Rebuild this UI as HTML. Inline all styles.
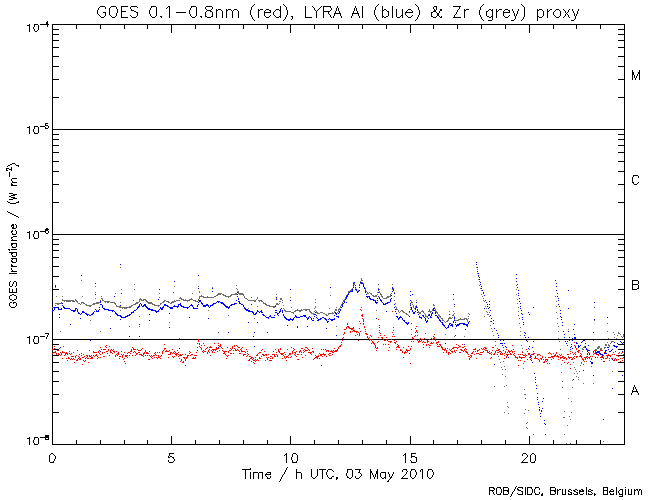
<!DOCTYPE html>
<html lang="en"><head><meta charset="utf-8"><title>GOES 0.1-0.8nm (red), LYRA Al (blue) &amp; Zr (grey) proxy</title>
<style>html,body{margin:0;padding:0;background:#fff;overflow:hidden}svg{display:block;font-family:"Liberation Sans",sans-serif}#labels text{fill:#000;fill-opacity:0;stroke:none}</style></head>
<body>
<svg width="650" height="500" viewBox="0 0 650 500" shape-rendering="crispEdges">
<rect width="650" height="500" fill="#fff"/>
<g id="frame" fill="#000"><title>plot frame and class boundaries</title><path d="M52 25v104h1v-104zM52 130v104h1v-104zM52 235v104h1v-104zM52 340v104h1v-104zM52 24h573v1h-573zM52 129h573v1h-573zM52 234h573v1h-573zM52 339h573v1h-573zM52 444h573v1h-573z"/></g>
<g id="ticks" fill="#000"><title>axis ticks</title><path d="M52 24v5h1v-5zM52 30v3h1v-3zM52 436v8h1v-8zM76 24v5h1v-5zM76 440v4h1v-4zM100 24v5h1v-5zM100 440v4h1v-4zM124 24v5h1v-5zM124 440v4h1v-4zM147 24v5h1v-5zM147 440v4h1v-4zM171 24v9h1v-9zM171 436v8h1v-8zM195 24v5h1v-5zM195 440v4h1v-4zM219 24v5h1v-5zM219 440v4h1v-4zM243 24v5h1v-5zM243 440v4h1v-4zM267 24v5h1v-5zM267 440v4h1v-4zM290 24v9h1v-9zM290 436v8h1v-8zM314 24v5h1v-5zM314 440v4h1v-4zM338 24v5h1v-5zM338 440v4h1v-4zM362 24v5h1v-5zM362 440v4h1v-4zM386 24v5h1v-5zM386 440v4h1v-4zM410 24v9h1v-9zM410 436v8h1v-8zM433 24v5h1v-5zM433 440v4h1v-4zM457 24v5h1v-5zM457 440v4h1v-4zM481 24v5h1v-5zM481 440v4h1v-4zM505 24v5h1v-5zM505 440v4h1v-4zM529 24v9h1v-9zM529 436v8h1v-8zM553 24v5h1v-5zM553 440v4h1v-4zM576 24v5h1v-5zM576 440v4h1v-4zM600 24v5h1v-5zM600 440v4h1v-4zM624 24v5h1v-5zM624 440v4h1v-4zM52 29h7v1h-7zM52 34h7v1h-7zM52 40h7v1h-7zM52 47h7v1h-7zM52 56h7v1h-7zM52 66h7v1h-7zM52 79h7v1h-7zM52 97h7v1h-7zM52 134h7v1h-7zM52 139h7v1h-7zM52 145h7v1h-7zM52 152h7v1h-7zM52 161h7v1h-7zM52 171h7v1h-7zM52 184h7v1h-7zM52 202h7v1h-7zM52 239h7v1h-7zM52 244h7v1h-7zM52 250h7v1h-7zM52 257h7v1h-7zM52 266h7v1h-7zM52 276h7v1h-7zM52 289h7v1h-7zM52 307h7v1h-7zM52 344h7v1h-7zM52 349h7v1h-7zM52 355h7v1h-7zM52 362h7v1h-7zM52 371h7v1h-7zM52 381h7v1h-7zM52 394h7v1h-7zM52 412h7v1h-7z"/></g>
<g id="goes" fill="#ff0000"><title>GOES 0.1-0.8nm (red)</title><path d="M122 355v3h1v-3zM162 351v3h1v-3zM198 339v3h1v-3zM232 346v3h1v-3zM292 351v3h1v-3zM359 333v3h1v-3zM363 319v3h1v-3zM375 345v3h1v-3zM446 350v3h1v-3zM599 351v3h1v-3zM361 307h1v1h-1zM360 309h1v1h-1zM361 310h1v1h-1zM392 311h1v1h-1zM362 314h1v1h-1zM361 315h2v1h-2zM362 316h1v1h-1zM362 318h1v1h-1zM378 319h1v1h-1zM359 321h1v1h-1zM347 323h1v1h-1zM360 323h1v1h-1zM363 323h1v1h-1zM411 323h1v1h-1zM347 324h1v1h-1zM363 324h1v1h-1zM379 325h1v1h-1zM347 326h2v1h-2zM364 326h1v1h-1zM416 326h1v1h-1zM346 327h1v1h-1zM348 327h2v1h-2zM353 327h1v1h-1zM364 327h1v1h-1zM379 327h1v1h-1zM393 327h1v1h-1zM346 328h1v1h-1zM349 328h5v1h-5zM359 328h1v1h-1zM415 328h1v1h-1zM344 329h2v1h-2zM351 329h2v1h-2zM365 329h1v1h-1zM411 329h1v1h-1zM353 330h2v1h-2zM379 330h1v1h-1zM393 330h1v1h-1zM416 330h1v1h-1zM350 331h1v1h-1zM352 331h1v1h-1zM354 331h4v1h-4zM360 331h1v1h-1zM365 331h1v1h-1zM416 331h1v1h-1zM344 332h1v1h-1zM350 332h1v1h-1zM356 332h1v1h-1zM358 332h1v1h-1zM379 332h1v1h-1zM392 332h1v1h-1zM415 332h1v1h-1zM417 332h1v1h-1zM344 333h1v1h-1zM365 333h2v1h-2zM380 333h1v1h-1zM343 334h1v1h-1zM357 334h1v1h-1zM366 334h2v1h-2zM393 334h1v1h-1zM411 334h1v1h-1zM434 334h1v1h-1zM355 335h1v1h-1zM370 335h1v1h-1zM380 335h1v1h-1zM384 335h1v1h-1zM415 335h1v1h-1zM417 335h1v1h-1zM367 336h1v1h-1zM371 336h1v1h-1zM392 336h1v1h-1zM394 336h1v1h-1zM414 336h1v1h-1zM433 336h1v1h-1zM343 337h1v1h-1zM367 337h1v1h-1zM369 337h1v1h-1zM378 337h1v1h-1zM381 337h2v1h-2zM386 337h1v1h-1zM412 337h1v1h-1zM434 337h1v1h-1zM342 338h1v1h-1zM368 338h1v1h-1zM382 338h1v1h-1zM412 338h2v1h-2zM420 338h1v1h-1zM424 338h1v1h-1zM431 338h1v1h-1zM433 338h2v1h-2zM369 339h2v1h-2zM383 339h1v1h-1zM386 339h1v1h-1zM391 339h1v1h-1zM413 339h2v1h-2zM419 339h1v1h-1zM421 339h2v1h-2zM425 339h1v1h-1zM429 339h1v1h-1zM432 339h1v1h-1zM435 339h1v1h-1zM342 340h1v1h-1zM358 340h1v1h-1zM369 340h1v1h-1zM371 340h1v1h-1zM384 340h2v1h-2zM387 340h1v1h-1zM394 340h1v1h-1zM417 340h1v1h-1zM419 340h1v1h-1zM421 340h1v1h-1zM427 340h1v1h-1zM435 340h1v1h-1zM372 341h1v1h-1zM378 341h1v1h-1zM388 341h4v1h-4zM396 341h1v1h-1zM411 341h1v1h-1zM413 341h1v1h-1zM418 341h3v1h-3zM423 341h1v1h-1zM427 341h2v1h-2zM438 341h1v1h-1zM341 342h1v1h-1zM372 342h2v1h-2zM377 342h1v1h-1zM390 342h1v1h-1zM394 342h2v1h-2zM418 342h1v1h-1zM422 342h1v1h-1zM424 342h2v1h-2zM427 342h1v1h-1zM431 342h1v1h-1zM433 342h1v1h-1zM436 342h3v1h-3zM574 342h1v1h-1zM197 343h1v1h-1zM199 343h1v1h-1zM203 343h1v1h-1zM214 343h1v1h-1zM218 343h1v1h-1zM371 343h1v1h-1zM373 343h2v1h-2zM395 343h1v1h-1zM430 343h3v1h-3zM436 343h1v1h-1zM164 344h1v1h-1zM199 344h1v1h-1zM220 344h1v1h-1zM341 344h1v1h-1zM374 344h1v1h-1zM383 344h1v1h-1zM385 344h1v1h-1zM388 344h1v1h-1zM397 344h1v1h-1zM423 344h1v1h-1zM426 344h1v1h-1zM428 344h1v1h-1zM437 344h1v1h-1zM439 344h2v1h-2zM456 344h1v1h-1zM462 344h1v1h-1zM106 345h1v1h-1zM201 345h1v1h-1zM204 345h1v1h-1zM218 345h1v1h-1zM220 345h1v1h-1zM234 345h1v1h-1zM236 345h1v1h-1zM340 345h1v1h-1zM398 345h1v1h-1zM426 345h1v1h-1zM429 345h2v1h-2zM440 345h1v1h-1zM458 345h1v1h-1zM512 345h1v1h-1zM574 345h1v1h-1zM54 346h1v1h-1zM63 346h1v1h-1zM105 346h1v1h-1zM109 346h1v1h-1zM199 346h1v1h-1zM210 346h1v1h-1zM219 346h2v1h-2zM234 346h1v1h-1zM237 346h1v1h-1zM339 346h2v1h-2zM397 346h2v1h-2zM408 346h1v1h-1zM411 346h1v1h-1zM437 346h3v1h-3zM441 346h1v1h-1zM459 346h2v1h-2zM464 346h1v1h-1zM575 346h1v1h-1zM60 347h1v1h-1zM100 347h1v1h-1zM106 347h1v1h-1zM132 347h1v1h-1zM197 347h1v1h-1zM200 347h1v1h-1zM207 347h1v1h-1zM209 347h3v1h-3zM216 347h1v1h-1zM221 347h1v1h-1zM227 347h1v1h-1zM238 347h2v1h-2zM242 347h1v1h-1zM291 347h1v1h-1zM305 347h2v1h-2zM338 347h1v1h-1zM377 347h1v1h-1zM389 347h1v1h-1zM396 347h1v1h-1zM398 347h2v1h-2zM403 347h1v1h-1zM423 347h1v1h-1zM429 347h1v1h-1zM441 347h2v1h-2zM453 347h4v1h-4zM458 347h1v1h-1zM462 347h2v1h-2zM484 347h2v1h-2zM492 347h2v1h-2zM503 347h1v1h-1zM575 347h1v1h-1zM54 348h1v1h-1zM59 348h1v1h-1zM133 348h1v1h-1zM142 348h1v1h-1zM164 348h2v1h-2zM201 348h1v1h-1zM206 348h1v1h-1zM216 348h3v1h-3zM222 348h1v1h-1zM230 348h1v1h-1zM234 348h1v1h-1zM241 348h1v1h-1zM280 348h1v1h-1zM293 348h1v1h-1zM301 348h2v1h-2zM307 348h1v1h-1zM312 348h1v1h-1zM334 348h1v1h-1zM338 348h1v1h-1zM376 348h2v1h-2zM410 348h1v1h-1zM442 348h1v1h-1zM445 348h1v1h-1zM447 348h1v1h-1zM452 348h2v1h-2zM457 348h1v1h-1zM465 348h1v1h-1zM475 348h1v1h-1zM481 348h1v1h-1zM483 348h1v1h-1zM485 348h2v1h-2zM576 348h1v1h-1zM52 349h2v1h-2zM101 349h1v1h-1zM103 349h3v1h-3zM108 349h1v1h-1zM111 349h1v1h-1zM113 349h1v1h-1zM131 349h1v1h-1zM133 349h3v1h-3zM137 349h1v1h-1zM141 349h1v1h-1zM164 349h1v1h-1zM172 349h1v1h-1zM201 349h1v1h-1zM205 349h1v1h-1zM209 349h1v1h-1zM212 349h5v1h-5zM231 349h1v1h-1zM235 349h1v1h-1zM237 349h1v1h-1zM240 349h1v1h-1zM246 349h1v1h-1zM262 349h1v1h-1zM275 349h1v1h-1zM278 349h1v1h-1zM280 349h1v1h-1zM287 349h1v1h-1zM294 349h1v1h-1zM304 349h1v1h-1zM308 349h1v1h-1zM321 349h1v1h-1zM323 349h1v1h-1zM325 349h1v1h-1zM337 349h1v1h-1zM396 349h1v1h-1zM400 349h1v1h-1zM406 349h1v1h-1zM410 349h1v1h-1zM442 349h4v1h-4zM449 349h1v1h-1zM451 349h1v1h-1zM460 349h2v1h-2zM464 349h1v1h-1zM466 349h1v1h-1zM473 349h3v1h-3zM479 349h1v1h-1zM482 349h1v1h-1zM484 349h1v1h-1zM498 349h2v1h-2zM506 349h1v1h-1zM513 349h1v1h-1zM526 349h1v1h-1zM576 349h1v1h-1zM57 350h2v1h-2zM77 350h1v1h-1zM89 350h1v1h-1zM99 350h1v1h-1zM108 350h1v1h-1zM110 350h1v1h-1zM112 350h1v1h-1zM131 350h1v1h-1zM138 350h3v1h-3zM145 350h1v1h-1zM163 350h1v1h-1zM166 350h1v1h-1zM169 350h1v1h-1zM177 350h1v1h-1zM197 350h1v1h-1zM203 350h1v1h-1zM208 350h1v1h-1zM211 350h1v1h-1zM213 350h1v1h-1zM215 350h1v1h-1zM219 350h1v1h-1zM222 350h1v1h-1zM229 350h2v1h-2zM233 350h1v1h-1zM235 350h2v1h-2zM238 350h1v1h-1zM241 350h1v1h-1zM261 350h1v1h-1zM278 350h1v1h-1zM293 350h1v1h-1zM300 350h1v1h-1zM303 350h1v1h-1zM305 350h3v1h-3zM309 350h1v1h-1zM326 350h3v1h-3zM331 350h1v1h-1zM333 350h1v1h-1zM335 350h3v1h-3zM376 350h1v1h-1zM388 350h1v1h-1zM400 350h2v1h-2zM406 350h4v1h-4zM444 350h1v1h-1zM450 350h1v1h-1zM454 350h1v1h-1zM456 350h1v1h-1zM461 350h2v1h-2zM464 350h1v1h-1zM477 350h2v1h-2zM485 350h3v1h-3zM492 350h1v1h-1zM496 350h3v1h-3zM503 350h1v1h-1zM508 350h1v1h-1zM511 350h1v1h-1zM578 350h2v1h-2zM594 350h3v1h-3zM600 350h1v1h-1zM55 351h1v1h-1zM62 351h1v1h-1zM69 351h1v1h-1zM93 351h1v1h-1zM98 351h1v1h-1zM106 351h2v1h-2zM110 351h1v1h-1zM113 351h2v1h-2zM116 351h1v1h-1zM121 351h1v1h-1zM130 351h2v1h-2zM134 351h1v1h-1zM145 351h1v1h-1zM149 351h1v1h-1zM165 351h4v1h-4zM174 351h1v1h-1zM189 351h1v1h-1zM202 351h1v1h-1zM204 351h2v1h-2zM208 351h1v1h-1zM212 351h1v1h-1zM217 351h1v1h-1zM223 351h4v1h-4zM228 351h1v1h-1zM239 351h1v1h-1zM241 351h4v1h-4zM247 351h1v1h-1zM264 351h1v1h-1zM273 351h1v1h-1zM278 351h2v1h-2zM296 351h1v1h-1zM299 351h2v1h-2zM304 351h1v1h-1zM312 351h2v1h-2zM326 351h1v1h-1zM328 351h1v1h-1zM330 351h3v1h-3zM334 351h3v1h-3zM402 351h1v1h-1zM405 351h1v1h-1zM407 351h1v1h-1zM451 351h2v1h-2zM454 351h1v1h-1zM463 351h1v1h-1zM465 351h2v1h-2zM473 351h1v1h-1zM475 351h1v1h-1zM477 351h1v1h-1zM483 351h1v1h-1zM487 351h1v1h-1zM489 351h1v1h-1zM495 351h1v1h-1zM499 351h2v1h-2zM505 351h1v1h-1zM508 351h3v1h-3zM512 351h1v1h-1zM514 351h1v1h-1zM527 351h1v1h-1zM533 351h1v1h-1zM570 351h1v1h-1zM577 351h2v1h-2zM595 351h1v1h-1zM597 351h1v1h-1zM610 351h1v1h-1zM615 351h1v1h-1zM53 352h3v1h-3zM60 352h1v1h-1zM62 352h3v1h-3zM66 352h1v1h-1zM73 352h1v1h-1zM93 352h4v1h-4zM98 352h1v1h-1zM102 352h1v1h-1zM104 352h1v1h-1zM110 352h2v1h-2zM114 352h1v1h-1zM118 352h1v1h-1zM124 352h1v1h-1zM128 352h2v1h-2zM133 352h1v1h-1zM135 352h1v1h-1zM138 352h2v1h-2zM144 352h1v1h-1zM146 352h2v1h-2zM155 352h1v1h-1zM157 352h1v1h-1zM159 352h1v1h-1zM170 352h2v1h-2zM173 352h1v1h-1zM175 352h1v1h-1zM178 352h1v1h-1zM190 352h1v1h-1zM196 352h1v1h-1zM203 352h1v1h-1zM207 352h1v1h-1zM209 352h1v1h-1zM212 352h1v1h-1zM214 352h1v1h-1zM224 352h1v1h-1zM228 352h1v1h-1zM245 352h1v1h-1zM259 352h2v1h-2zM276 352h1v1h-1zM279 352h1v1h-1zM284 352h1v1h-1zM294 352h2v1h-2zM299 352h1v1h-1zM301 352h1v1h-1zM303 352h1v1h-1zM308 352h4v1h-4zM313 352h1v1h-1zM332 352h2v1h-2zM402 352h1v1h-1zM404 352h3v1h-3zM443 352h1v1h-1zM448 352h2v1h-2zM452 352h1v1h-1zM455 352h1v1h-1zM459 352h2v1h-2zM466 352h2v1h-2zM472 352h1v1h-1zM480 352h3v1h-3zM487 352h2v1h-2zM491 352h1v1h-1zM495 352h1v1h-1zM498 352h1v1h-1zM501 352h1v1h-1zM505 352h1v1h-1zM507 352h1v1h-1zM509 352h1v1h-1zM512 352h1v1h-1zM522 352h1v1h-1zM549 352h1v1h-1zM556 352h1v1h-1zM572 352h1v1h-1zM575 352h1v1h-1zM578 352h1v1h-1zM588 352h1v1h-1zM593 352h1v1h-1zM595 352h1v1h-1zM597 352h1v1h-1zM604 352h2v1h-2zM613 352h1v1h-1zM619 352h1v1h-1zM622 352h1v1h-1zM52 353h1v1h-1zM56 353h1v1h-1zM58 353h1v1h-1zM61 353h1v1h-1zM65 353h3v1h-3zM69 353h1v1h-1zM71 353h1v1h-1zM81 353h1v1h-1zM99 353h1v1h-1zM102 353h1v1h-1zM107 353h1v1h-1zM112 353h1v1h-1zM117 353h2v1h-2zM127 353h1v1h-1zM130 353h1v1h-1zM136 353h2v1h-2zM143 353h2v1h-2zM146 353h3v1h-3zM154 353h1v1h-1zM170 353h1v1h-1zM172 353h1v1h-1zM174 353h1v1h-1zM176 353h2v1h-2zM189 353h1v1h-1zM207 353h1v1h-1zM223 353h2v1h-2zM230 353h2v1h-2zM233 353h1v1h-1zM239 353h2v1h-2zM247 353h1v1h-1zM258 353h1v1h-1zM280 353h4v1h-4zM289 353h2v1h-2zM295 353h1v1h-1zM310 353h1v1h-1zM319 353h1v1h-1zM323 353h1v1h-1zM329 353h2v1h-2zM404 353h1v1h-1zM409 353h1v1h-1zM448 353h1v1h-1zM450 353h1v1h-1zM467 353h1v1h-1zM471 353h2v1h-2zM476 353h3v1h-3zM489 353h2v1h-2zM494 353h1v1h-1zM500 353h1v1h-1zM502 353h1v1h-1zM504 353h1v1h-1zM510 353h1v1h-1zM514 353h1v1h-1zM528 353h2v1h-2zM533 353h2v1h-2zM548 353h1v1h-1zM550 353h1v1h-1zM553 353h1v1h-1zM556 353h1v1h-1zM570 353h1v1h-1zM574 353h1v1h-1zM580 353h1v1h-1zM587 353h1v1h-1zM594 353h1v1h-1zM605 353h1v1h-1zM618 353h1v1h-1zM621 353h1v1h-1zM56 354h1v1h-1zM58 354h2v1h-2zM61 354h1v1h-1zM65 354h1v1h-1zM67 354h1v1h-1zM70 354h1v1h-1zM79 354h1v1h-1zM83 354h1v1h-1zM96 354h1v1h-1zM100 354h1v1h-1zM116 354h1v1h-1zM118 354h1v1h-1zM121 354h1v1h-1zM123 354h1v1h-1zM136 354h1v1h-1zM139 354h3v1h-3zM143 354h1v1h-1zM155 354h1v1h-1zM168 354h3v1h-3zM175 354h2v1h-2zM178 354h1v1h-1zM180 354h1v1h-1zM182 354h1v1h-1zM185 354h1v1h-1zM191 354h2v1h-2zM225 354h1v1h-1zM243 354h3v1h-3zM248 354h1v1h-1zM257 354h1v1h-1zM262 354h2v1h-2zM265 354h2v1h-2zM268 354h1v1h-1zM272 354h3v1h-3zM276 354h1v1h-1zM281 354h2v1h-2zM285 354h1v1h-1zM289 354h2v1h-2zM294 354h1v1h-1zM297 354h2v1h-2zM301 354h1v1h-1zM311 354h1v1h-1zM320 354h6v1h-6zM328 354h1v1h-1zM332 354h1v1h-1zM448 354h1v1h-1zM468 354h1v1h-1zM474 354h1v1h-1zM479 354h3v1h-3zM491 354h1v1h-1zM493 354h2v1h-2zM497 354h1v1h-1zM500 354h3v1h-3zM506 354h3v1h-3zM510 354h2v1h-2zM513 354h1v1h-1zM518 354h1v1h-1zM520 354h1v1h-1zM522 354h1v1h-1zM525 354h1v1h-1zM528 354h2v1h-2zM531 354h3v1h-3zM537 354h3v1h-3zM551 354h1v1h-1zM555 354h1v1h-1zM559 354h1v1h-1zM561 354h1v1h-1zM567 354h2v1h-2zM573 354h1v1h-1zM575 354h1v1h-1zM593 354h1v1h-1zM596 354h1v1h-1zM598 354h1v1h-1zM608 354h1v1h-1zM612 354h1v1h-1zM614 354h1v1h-1zM623 354h1v1h-1zM60 355h1v1h-1zM64 355h1v1h-1zM76 355h1v1h-1zM81 355h1v1h-1zM86 355h2v1h-2zM89 355h1v1h-1zM91 355h1v1h-1zM93 355h1v1h-1zM95 355h2v1h-2zM109 355h1v1h-1zM115 355h1v1h-1zM117 355h1v1h-1zM125 355h3v1h-3zM129 355h1v1h-1zM132 355h1v1h-1zM135 355h1v1h-1zM141 355h2v1h-2zM145 355h1v1h-1zM147 355h1v1h-1zM149 355h1v1h-1zM151 355h1v1h-1zM153 355h2v1h-2zM156 355h1v1h-1zM158 355h1v1h-1zM161 355h1v1h-1zM176 355h1v1h-1zM179 355h3v1h-3zM187 355h2v1h-2zM190 355h1v1h-1zM194 355h3v1h-3zM210 355h1v1h-1zM226 355h1v1h-1zM228 355h1v1h-1zM243 355h1v1h-1zM247 355h1v1h-1zM256 355h2v1h-2zM263 355h2v1h-2zM266 355h1v1h-1zM274 355h1v1h-1zM277 355h1v1h-1zM283 355h1v1h-1zM288 355h1v1h-1zM295 355h1v1h-1zM305 355h1v1h-1zM315 355h1v1h-1zM318 355h1v1h-1zM320 355h2v1h-2zM324 355h1v1h-1zM329 355h2v1h-2zM470 355h2v1h-2zM504 355h1v1h-1zM514 355h1v1h-1zM523 355h2v1h-2zM526 355h1v1h-1zM537 355h1v1h-1zM540 355h1v1h-1zM554 355h2v1h-2zM557 355h1v1h-1zM560 355h1v1h-1zM580 355h1v1h-1zM598 355h1v1h-1zM603 355h1v1h-1zM606 355h5v1h-5zM616 355h2v1h-2zM619 355h1v1h-1zM621 355h1v1h-1zM71 356h3v1h-3zM75 356h1v1h-1zM78 356h1v1h-1zM84 356h1v1h-1zM87 356h1v1h-1zM89 356h2v1h-2zM94 356h1v1h-1zM97 356h1v1h-1zM103 356h2v1h-2zM115 356h1v1h-1zM119 356h2v1h-2zM125 356h2v1h-2zM143 356h1v1h-1zM150 356h1v1h-1zM152 356h1v1h-1zM158 356h1v1h-1zM160 356h1v1h-1zM172 356h1v1h-1zM174 356h1v1h-1zM178 356h1v1h-1zM187 356h1v1h-1zM227 356h1v1h-1zM246 356h1v1h-1zM249 356h2v1h-2zM261 356h1v1h-1zM270 356h2v1h-2zM274 356h2v1h-2zM277 356h1v1h-1zM284 356h1v1h-1zM286 356h2v1h-2zM291 356h1v1h-1zM296 356h1v1h-1zM316 356h3v1h-3zM322 356h1v1h-1zM326 356h1v1h-1zM468 356h2v1h-2zM471 356h1v1h-1zM506 356h1v1h-1zM515 356h1v1h-1zM519 356h1v1h-1zM525 356h1v1h-1zM530 356h2v1h-2zM535 356h1v1h-1zM542 356h1v1h-1zM551 356h4v1h-4zM556 356h3v1h-3zM562 356h2v1h-2zM574 356h1v1h-1zM576 356h2v1h-2zM579 356h3v1h-3zM586 356h2v1h-2zM590 356h1v1h-1zM592 356h1v1h-1zM601 356h2v1h-2zM607 356h1v1h-1zM610 356h1v1h-1zM618 356h1v1h-1zM68 357h1v1h-1zM75 357h1v1h-1zM79 357h1v1h-1zM82 357h2v1h-2zM86 357h1v1h-1zM91 357h2v1h-2zM98 357h1v1h-1zM100 357h1v1h-1zM127 357h1v1h-1zM151 357h1v1h-1zM154 357h1v1h-1zM156 357h1v1h-1zM158 357h2v1h-2zM168 357h1v1h-1zM173 357h1v1h-1zM183 357h2v1h-2zM186 357h2v1h-2zM193 357h1v1h-1zM195 357h1v1h-1zM251 357h2v1h-2zM255 357h1v1h-1zM259 357h1v1h-1zM266 357h1v1h-1zM268 357h1v1h-1zM272 357h1v1h-1zM284 357h1v1h-1zM286 357h1v1h-1zM288 357h1v1h-1zM290 357h1v1h-1zM302 357h1v1h-1zM315 357h3v1h-3zM403 357h1v1h-1zM470 357h1v1h-1zM491 357h1v1h-1zM506 357h1v1h-1zM515 357h3v1h-3zM519 357h6v1h-6zM529 357h1v1h-1zM535 357h1v1h-1zM542 357h1v1h-1zM545 357h1v1h-1zM548 357h3v1h-3zM552 357h1v1h-1zM558 357h1v1h-1zM560 357h3v1h-3zM564 357h2v1h-2zM568 357h4v1h-4zM573 357h1v1h-1zM576 357h1v1h-1zM581 357h1v1h-1zM584 357h3v1h-3zM588 357h2v1h-2zM597 357h1v1h-1zM600 357h4v1h-4zM607 357h1v1h-1zM623 357h1v1h-1zM62 358h1v1h-1zM66 358h1v1h-1zM68 358h2v1h-2zM71 358h1v1h-1zM73 358h1v1h-1zM78 358h1v1h-1zM80 358h1v1h-1zM85 358h1v1h-1zM87 358h2v1h-2zM90 358h3v1h-3zM97 358h1v1h-1zM119 358h1v1h-1zM124 358h1v1h-1zM152 358h1v1h-1zM157 358h1v1h-1zM160 358h1v1h-1zM179 358h1v1h-1zM184 358h1v1h-1zM186 358h1v1h-1zM192 358h4v1h-4zM226 358h1v1h-1zM250 358h2v1h-2zM253 358h1v1h-1zM259 358h2v1h-2zM267 358h1v1h-1zM270 358h1v1h-1zM272 358h1v1h-1zM282 358h1v1h-1zM285 358h1v1h-1zM314 358h1v1h-1zM317 358h1v1h-1zM319 358h1v1h-1zM469 358h1v1h-1zM476 358h1v1h-1zM490 358h1v1h-1zM504 358h1v1h-1zM517 358h1v1h-1zM521 358h1v1h-1zM531 358h1v1h-1zM534 358h4v1h-4zM540 358h2v1h-2zM553 358h1v1h-1zM560 358h1v1h-1zM563 358h2v1h-2zM566 358h1v1h-1zM569 358h1v1h-1zM572 358h1v1h-1zM574 358h1v1h-1zM582 358h1v1h-1zM585 358h1v1h-1zM587 358h1v1h-1zM589 358h1v1h-1zM591 358h1v1h-1zM603 358h1v1h-1zM605 358h2v1h-2zM609 358h1v1h-1zM611 358h2v1h-2zM615 358h1v1h-1zM620 358h1v1h-1zM622 358h1v1h-1zM70 359h1v1h-1zM72 359h1v1h-1zM74 359h1v1h-1zM77 359h1v1h-1zM79 359h2v1h-2zM123 359h1v1h-1zM148 359h2v1h-2zM181 359h1v1h-1zM185 359h1v1h-1zM249 359h1v1h-1zM252 359h1v1h-1zM255 359h1v1h-1zM257 359h1v1h-1zM267 359h1v1h-1zM297 359h2v1h-2zM313 359h1v1h-1zM469 359h1v1h-1zM527 359h1v1h-1zM530 359h1v1h-1zM538 359h1v1h-1zM541 359h1v1h-1zM543 359h1v1h-1zM545 359h3v1h-3zM551 359h1v1h-1zM558 359h1v1h-1zM566 359h1v1h-1zM571 359h2v1h-2zM582 359h2v1h-2zM585 359h1v1h-1zM591 359h1v1h-1zM601 359h1v1h-1zM614 359h1v1h-1zM616 359h1v1h-1zM618 359h1v1h-1zM67 360h1v1h-1zM76 360h2v1h-2zM83 360h1v1h-1zM85 360h1v1h-1zM181 360h1v1h-1zM185 360h1v1h-1zM248 360h2v1h-2zM253 360h2v1h-2zM256 360h1v1h-1zM258 360h1v1h-1zM265 360h1v1h-1zM269 360h3v1h-3zM286 360h1v1h-1zM518 360h1v1h-1zM520 360h1v1h-1zM539 360h1v1h-1zM545 360h1v1h-1zM547 360h1v1h-1zM562 360h1v1h-1zM583 360h1v1h-1zM609 360h1v1h-1zM613 360h2v1h-2zM616 360h1v1h-1zM622 360h1v1h-1zM84 361h1v1h-1zM124 361h1v1h-1zM180 361h1v1h-1zM183 361h1v1h-1zM251 361h1v1h-1zM255 361h1v1h-1zM524 361h1v1h-1zM539 361h1v1h-1zM544 361h1v1h-1zM546 361h1v1h-1zM584 361h1v1h-1zM604 361h1v1h-1zM620 361h1v1h-1zM74 362h1v1h-1zM88 362h1v1h-1zM182 362h2v1h-2zM253 362h1v1h-1zM543 362h2v1h-2zM564 362h1v1h-1zM568 362h1v1h-1zM125 363h1v1h-1zM254 363h1v1h-1zM410 363h1v1h-1zM547 363h1v1h-1zM549 363h1v1h-1zM567 363h1v1h-1zM82 364h1v1h-1zM570 364h1v1h-1zM583 364h1v1h-1zM185 365h1v1h-1zM321 365h1v1h-1zM518 365h1v1h-1zM570 368h1v1h-1z"/></g>
<g id="zr" fill="#6e6e6e"><title>LYRA Zr proxy (grey)</title><path d="M413 305v3h1v-3zM623 334v3h1v-3zM120 267h1v1h-1zM476 267h1v1h-1zM477 269h1v1h-1zM477 273h1v1h-1zM478 276h1v1h-1zM361 278h1v1h-1zM361 279h1v1h-1zM478 279h1v1h-1zM81 280h1v1h-1zM361 280h2v1h-2zM360 281h1v1h-1zM479 281h1v1h-1zM353 282h1v1h-1zM362 282h1v1h-1zM354 283h1v1h-1zM360 283h1v1h-1zM363 283h1v1h-1zM134 284h1v1h-1zM353 284h2v1h-2zM359 284h1v1h-1zM378 284h1v1h-1zM392 284h1v1h-1zM236 285h1v1h-1zM355 285h1v1h-1zM363 285h1v1h-1zM479 285h1v1h-1zM516 285h1v1h-1zM95 286h1v1h-1zM174 286h1v1h-1zM198 286h1v1h-1zM353 286h1v1h-1zM363 286h1v1h-1zM55 287h1v1h-1zM212 287h1v1h-1zM355 287h1v1h-1zM359 287h1v1h-1zM364 287h1v1h-1zM392 287h1v1h-1zM236 288h1v1h-1zM352 288h1v1h-1zM355 288h1v1h-1zM364 288h2v1h-2zM378 288h1v1h-1zM393 288h1v1h-1zM480 288h1v1h-1zM121 289h1v1h-1zM134 289h1v1h-1zM237 289h1v1h-1zM351 289h2v1h-2zM356 289h1v1h-1zM365 289h1v1h-1zM379 289h1v1h-1zM392 289h2v1h-2zM516 289h1v1h-1zM350 290h2v1h-2zM356 290h1v1h-1zM358 290h2v1h-2zM365 290h1v1h-1zM378 290h1v1h-1zM481 290h1v1h-1zM199 291h1v1h-1zM237 291h2v1h-2zM348 291h2v1h-2zM357 291h2v1h-2zM366 291h1v1h-1zM379 291h1v1h-1zM392 291h1v1h-1zM95 292h1v1h-1zM173 292h1v1h-1zM199 292h1v1h-1zM237 292h2v1h-2zM348 292h1v1h-1zM367 292h1v1h-1zM369 292h1v1h-1zM377 292h1v1h-1zM379 292h1v1h-1zM394 292h1v1h-1zM115 293h1v1h-1zM159 293h1v1h-1zM192 293h1v1h-1zM218 293h4v1h-4zM235 293h2v1h-2zM238 293h5v1h-5zM348 293h1v1h-1zM367 293h2v1h-2zM370 293h2v1h-2zM380 293h1v1h-1zM391 293h1v1h-1zM217 294h4v1h-4zM222 294h2v1h-2zM231 294h6v1h-6zM239 294h5v1h-5zM276 294h1v1h-1zM347 294h1v1h-1zM371 294h1v1h-1zM377 294h1v1h-1zM380 294h2v1h-2zM390 294h1v1h-1zM481 294h1v1h-1zM516 294h1v1h-1zM201 295h1v1h-1zM216 295h2v1h-2zM223 295h3v1h-3zM230 295h2v1h-2zM243 295h1v1h-1zM330 295h1v1h-1zM346 295h1v1h-1zM372 295h2v1h-2zM375 295h2v1h-2zM381 295h1v1h-1zM390 295h1v1h-1zM56 296h1v1h-1zM62 296h1v1h-1zM82 296h1v1h-1zM101 296h1v1h-1zM199 296h5v1h-5zM207 296h1v1h-1zM214 296h2v1h-2zM225 296h6v1h-6zM244 296h1v1h-1zM346 296h1v1h-1zM373 296h4v1h-4zM381 296h2v1h-2zM387 296h4v1h-4zM394 296h1v1h-1zM482 296h1v1h-1zM555 296h1v1h-1zM159 297h1v1h-1zM180 297h1v1h-1zM199 297h1v1h-1zM203 297h11v1h-11zM228 297h1v1h-1zM244 297h1v1h-1zM251 297h1v1h-1zM257 297h1v1h-1zM290 297h1v1h-1zM345 297h1v1h-1zM382 297h1v1h-1zM386 297h3v1h-3zM95 298h1v1h-1zM101 298h2v1h-2zM140 298h1v1h-1zM179 298h3v1h-3zM191 298h1v1h-1zM199 298h1v1h-1zM245 298h2v1h-2zM257 298h1v1h-1zM276 298h1v1h-1zM280 298h2v1h-2zM345 298h1v1h-1zM383 298h4v1h-4zM483 298h1v1h-1zM62 299h1v1h-1zM75 299h1v1h-1zM102 299h1v1h-1zM139 299h3v1h-3zM143 299h3v1h-3zM181 299h3v1h-3zM185 299h1v1h-1zM189 299h4v1h-4zM198 299h1v1h-1zM247 299h1v1h-1zM256 299h1v1h-1zM280 299h2v1h-2zM315 299h1v1h-1zM344 299h1v1h-1zM453 299h1v1h-1zM517 299h1v1h-1zM62 300h12v1h-12zM75 300h2v1h-2zM100 300h1v1h-1zM102 300h2v1h-2zM133 300h1v1h-1zM139 300h1v1h-1zM141 300h3v1h-3zM145 300h2v1h-2zM164 300h2v1h-2zM174 300h1v1h-1zM176 300h4v1h-4zM183 300h7v1h-7zM193 300h3v1h-3zM198 300h1v1h-1zM248 300h8v1h-8zM258 300h4v1h-4zM282 300h1v1h-1zM343 300h2v1h-2zM394 300h1v1h-1zM416 300h1v1h-1zM483 300h1v1h-1zM64 301h1v1h-1zM66 301h5v1h-5zM72 301h3v1h-3zM76 301h2v1h-2zM104 301h6v1h-6zM139 301h1v1h-1zM146 301h2v1h-2zM163 301h2v1h-2zM166 301h3v1h-3zM172 301h4v1h-4zM187 301h1v1h-1zM195 301h3v1h-3zM254 301h2v1h-2zM259 301h1v1h-1zM261 301h2v1h-2zM279 301h2v1h-2zM343 301h1v1h-1zM411 301h1v1h-1zM484 301h1v1h-1zM556 301h1v1h-1zM61 302h1v1h-1zM77 302h1v1h-1zM81 302h3v1h-3zM96 302h5v1h-5zM105 302h1v1h-1zM107 302h2v1h-2zM110 302h5v1h-5zM120 302h1v1h-1zM136 302h3v1h-3zM147 302h5v1h-5zM162 302h2v1h-2zM168 302h2v1h-2zM171 302h3v1h-3zM263 302h1v1h-1zM282 302h1v1h-1zM315 302h1v1h-1zM342 302h1v1h-1zM411 302h2v1h-2zM55 303h7v1h-7zM78 303h2v1h-2zM81 303h1v1h-1zM83 303h2v1h-2zM93 303h6v1h-6zM114 303h2v1h-2zM135 303h3v1h-3zM148 303h5v1h-5zM160 303h2v1h-2zM170 303h2v1h-2zM263 303h3v1h-3zM276 303h2v1h-2zM279 303h1v1h-1zM342 303h1v1h-1zM395 303h1v1h-1zM517 303h1v1h-1zM57 304h2v1h-2zM80 304h1v1h-1zM85 304h2v1h-2zM92 304h3v1h-3zM115 304h1v1h-1zM133 304h3v1h-3zM152 304h3v1h-3zM160 304h1v1h-1zM265 304h2v1h-2zM276 304h3v1h-3zM341 304h1v1h-1zM410 304h1v1h-1zM412 304h1v1h-1zM433 304h1v1h-1zM55 305h1v1h-1zM86 305h6v1h-6zM116 305h1v1h-1zM131 305h2v1h-2zM154 305h6v1h-6zM266 305h4v1h-4zM275 305h1v1h-1zM283 305h1v1h-1zM341 305h1v1h-1zM416 305h1v1h-1zM433 305h2v1h-2zM89 306h2v1h-2zM116 306h5v1h-5zM129 306h3v1h-3zM158 306h1v1h-1zM257 306h1v1h-1zM269 306h7v1h-7zM315 306h1v1h-1zM340 306h1v1h-1zM395 306h1v1h-1zM415 306h2v1h-2zM454 306h1v1h-1zM485 306h1v1h-1zM556 306h1v1h-1zM52 307h3v1h-3zM119 307h12v1h-12zM273 307h2v1h-2zM291 307h1v1h-1zM315 307h1v1h-1zM336 307h1v1h-1zM340 307h1v1h-1zM396 307h1v1h-1zM410 307h1v1h-1zM415 307h1v1h-1zM417 307h1v1h-1zM434 307h1v1h-1zM518 307h1v1h-1zM594 307h1v1h-1zM122 308h1v1h-1zM124 308h3v1h-3zM248 308h1v1h-1zM283 308h1v1h-1zM314 308h1v1h-1zM329 308h1v1h-1zM339 308h1v1h-1zM396 308h1v1h-1zM414 308h1v1h-1zM433 308h1v1h-1zM486 308h1v1h-1zM284 309h1v1h-1zM297 309h1v1h-1zM301 309h1v1h-1zM303 309h7v1h-7zM335 309h2v1h-2zM338 309h2v1h-2zM396 309h2v1h-2zM410 309h1v1h-1zM415 309h1v1h-1zM417 309h1v1h-1zM429 309h1v1h-1zM432 309h1v1h-1zM435 309h1v1h-1zM120 310h1v1h-1zM208 310h1v1h-1zM284 310h2v1h-2zM295 310h8v1h-8zM305 310h2v1h-2zM309 310h1v1h-1zM315 310h1v1h-1zM335 310h2v1h-2zM338 310h1v1h-1zM376 310h1v1h-1zM398 310h1v1h-1zM401 310h2v1h-2zM417 310h1v1h-1zM422 310h1v1h-1zM429 310h1v1h-1zM432 310h1v1h-1zM435 310h1v1h-1zM285 311h6v1h-6zM294 311h2v1h-2zM299 311h2v1h-2zM309 311h2v1h-2zM314 311h1v1h-1zM316 311h1v1h-1zM334 311h1v1h-1zM338 311h1v1h-1zM398 311h1v1h-1zM400 311h1v1h-1zM402 311h2v1h-2zM409 311h1v1h-1zM418 311h1v1h-1zM421 311h3v1h-3zM428 311h4v1h-4zM435 311h2v1h-2zM449 311h1v1h-1zM453 311h1v1h-1zM486 311h1v1h-1zM518 311h1v1h-1zM291 312h3v1h-3zM310 312h2v1h-2zM316 312h2v1h-2zM320 312h3v1h-3zM332 312h1v1h-1zM334 312h1v1h-1zM337 312h1v1h-1zM399 312h1v1h-1zM403 312h2v1h-2zM409 312h1v1h-1zM418 312h3v1h-3zM423 312h1v1h-1zM430 312h1v1h-1zM436 312h2v1h-2zM487 312h1v1h-1zM489 312h1v1h-1zM556 312h1v1h-1zM293 313h1v1h-1zM311 313h3v1h-3zM317 313h3v1h-3zM323 313h2v1h-2zM328 313h6v1h-6zM405 313h2v1h-2zM419 313h2v1h-2zM424 313h1v1h-1zM431 313h1v1h-1zM437 313h1v1h-1zM454 313h1v1h-1zM468 313h1v1h-1zM253 314h1v1h-1zM313 314h1v1h-1zM325 314h2v1h-2zM328 314h1v1h-1zM406 314h2v1h-2zM425 314h1v1h-1zM428 314h1v1h-1zM438 314h1v1h-1zM453 314h1v1h-1zM469 314h1v1h-1zM487 314h2v1h-2zM228 315h1v1h-1zM326 315h2v1h-2zM408 315h1v1h-1zM425 315h1v1h-1zM438 315h2v1h-2zM452 315h2v1h-2zM518 315h1v1h-1zM110 316h1v1h-1zM139 316h1v1h-1zM425 316h3v1h-3zM439 316h2v1h-2zM454 316h1v1h-1zM468 316h1v1h-1zM484 316h1v1h-1zM489 316h1v1h-1zM427 317h1v1h-1zM440 317h1v1h-1zM449 317h2v1h-2zM452 317h1v1h-1zM254 318h1v1h-1zM441 318h2v1h-2zM448 318h4v1h-4zM454 318h1v1h-1zM460 318h1v1h-1zM464 318h3v1h-3zM468 318h1v1h-1zM519 318h1v1h-1zM557 318h1v1h-1zM442 319h1v1h-1zM448 319h1v1h-1zM454 319h1v1h-1zM458 319h7v1h-7zM466 319h2v1h-2zM90 320h1v1h-1zM442 320h2v1h-2zM447 320h2v1h-2zM455 320h4v1h-4zM467 320h1v1h-1zM594 320h1v1h-1zM327 321h1v1h-1zM444 321h1v1h-1zM446 321h2v1h-2zM467 321h1v1h-1zM490 321h1v1h-1zM169 322h1v1h-1zM445 322h1v1h-1zM519 323h1v1h-1zM557 323h1v1h-1zM607 323h1v1h-1zM490 325h1v1h-1zM129 326h1v1h-1zM139 326h1v1h-1zM336 326h1v1h-1zM558 326h1v1h-1zM520 327h1v1h-1zM455 328h1v1h-1zM491 328h1v1h-1zM568 329h1v1h-1zM60 331h1v1h-1zM100 331h1v1h-1zM492 331h1v1h-1zM520 331h1v1h-1zM558 331h1v1h-1zM607 331h1v1h-1zM218 332h1v1h-1zM613 332h1v1h-1zM618 332h1v1h-1zM425 333h1v1h-1zM618 333h2v1h-2zM445 334h1v1h-1zM614 334h1v1h-1zM620 334h1v1h-1zM493 335h1v1h-1zM520 335h1v1h-1zM617 335h1v1h-1zM454 336h1v1h-1zM464 336h1v1h-1zM621 336h1v1h-1zM614 337h1v1h-1zM622 337h1v1h-1zM179 338h1v1h-1zM558 338h1v1h-1zM572 338h1v1h-1zM608 338h1v1h-1zM616 338h1v1h-1zM593 340h1v1h-1zM495 341h1v1h-1zM559 341h1v1h-1zM611 341h3v1h-3zM607 342h1v1h-1zM611 342h1v1h-1zM610 343h1v1h-1zM605 344h2v1h-2zM608 344h1v1h-1zM495 345h1v1h-1zM521 345h1v1h-1zM605 345h2v1h-2zM608 345h2v1h-2zM584 346h1v1h-1zM598 346h2v1h-2zM609 346h1v1h-1zM583 347h3v1h-3zM597 347h3v1h-3zM604 347h2v1h-2zM497 348h1v1h-1zM522 348h1v1h-1zM528 348h1v1h-1zM582 348h1v1h-1zM597 348h2v1h-2zM600 348h2v1h-2zM604 348h1v1h-1zM529 349h1v1h-1zM560 349h1v1h-1zM582 349h2v1h-2zM586 349h2v1h-2zM595 349h2v1h-2zM600 349h2v1h-2zM596 350h1v1h-1zM601 350h2v1h-2zM522 351h1v1h-1zM582 351h1v1h-1zM497 352h1v1h-1zM581 354h1v1h-1zM498 356h1v1h-1zM568 356h1v1h-1zM586 356h1v1h-1zM499 359h1v1h-1zM503 361h1v1h-1zM586 361h1v1h-1zM500 362h1v1h-1zM573 362h1v1h-1zM581 362h1v1h-1zM523 363h1v1h-1zM581 363h1v1h-1zM561 364h1v1h-1zM580 365h1v1h-1zM504 366h1v1h-1zM591 366h1v1h-1zM501 367h1v1h-1zM574 367h1v1h-1zM523 368h1v1h-1zM502 369h1v1h-1zM505 369h1v1h-1zM575 369h1v1h-1zM576 371h1v1h-1zM579 371h1v1h-1zM612 371h1v1h-1zM561 372h1v1h-1zM574 373h1v1h-1zM577 373h1v1h-1zM502 374h1v1h-1zM505 376h1v1h-1zM576 376h1v1h-1zM578 377h1v1h-1zM578 379h1v1h-1zM572 380h1v1h-1zM562 381h1v1h-1zM583 383h1v1h-1zM593 383h1v1h-1zM506 385h1v1h-1zM494 386h1v1h-1zM504 386h1v1h-1zM562 387h1v1h-1zM572 387h1v1h-1zM524 389h1v1h-1zM524 394h2v1h-2zM525 398h1v1h-1zM568 398h1v1h-1zM571 401h1v1h-1zM507 402h1v1h-1zM507 406h1v1h-1zM508 407h1v1h-1zM525 409h1v1h-1zM528 410h1v1h-1zM564 411h1v1h-1zM504 412h1v1h-1zM571 412h1v1h-1zM508 413h1v1h-1zM524 413h1v1h-1zM569 416h1v1h-1zM563 417h2v1h-2zM570 419h1v1h-1zM527 422h1v1h-1zM526 423h1v1h-1zM567 425h1v1h-1zM526 427h1v1h-1zM527 428h1v1h-1zM533 434h1v1h-1zM564 434h1v1h-1zM603 441h1v1h-1zM566 443h1v1h-1zM570 443h1v1h-1z"/></g>
<g id="al" fill="#0000ff"><title>LYRA Al proxy (blue)</title><path d="M77 309v3h1v-3zM102 305v3h1v-3zM282 310v3h1v-3zM342 304v3h1v-3zM363 284v3h1v-3zM365 290v3h1v-3zM390 299v3h1v-3zM411 307v3h1v-3zM425 318v3h1v-3zM476 262h1v1h-1zM120 264h1v1h-1zM476 264h1v1h-1zM477 267h1v1h-1zM477 271h1v1h-1zM478 273h1v1h-1zM516 274h1v1h-1zM81 275h1v1h-1zM198 275h1v1h-1zM478 275h1v1h-1zM479 277h1v1h-1zM516 278h1v1h-1zM479 279h1v1h-1zM555 280h1v1h-1zM174 281h1v1h-1zM516 281h1v1h-1zM354 282h1v1h-1zM360 282h2v1h-2zM480 282h1v1h-1zM95 283h1v1h-1zM353 283h1v1h-1zM361 283h2v1h-2zM556 283h1v1h-1zM480 284h1v1h-1zM517 284h1v1h-1zM55 285h1v1h-1zM353 285h1v1h-1zM355 285h1v1h-1zM359 285h1v1h-1zM55 286h1v1h-1zM481 286h1v1h-1zM556 286h1v1h-1zM330 287h1v1h-1zM353 287h1v1h-1zM355 287h1v1h-1zM359 287h1v1h-1zM364 287h1v1h-1zM392 287h1v1h-1zM517 287h1v1h-1zM198 288h1v1h-1zM212 288h1v1h-1zM364 288h1v1h-1zM392 288h1v1h-1zM481 288h1v1h-1zM159 289h1v1h-1zM290 289h1v1h-1zM352 289h1v1h-1zM355 289h2v1h-2zM378 289h1v1h-1zM393 289h1v1h-1zM352 290h1v1h-1zM356 290h1v1h-1zM359 290h1v1h-1zM393 290h1v1h-1zM482 290h1v1h-1zM518 290h1v1h-1zM556 290h1v1h-1zM568 290h1v1h-1zM212 291h1v1h-1zM350 291h3v1h-3zM357 291h2v1h-2zM392 291h1v1h-1zM410 291h1v1h-1zM237 292h1v1h-1zM349 292h1v1h-1zM357 292h1v1h-1zM378 292h1v1h-1zM483 292h1v1h-1zM121 293h1v1h-1zM348 293h1v1h-1zM394 293h1v1h-1zM483 293h1v1h-1zM518 293h1v1h-1zM557 293h1v1h-1zM95 294h1v1h-1zM237 294h1v1h-1zM348 294h1v1h-1zM366 294h1v1h-1zM412 294h1v1h-1zM453 294h1v1h-1zM347 295h1v1h-1zM391 295h1v1h-1zM410 295h1v1h-1zM484 295h1v1h-1zM518 295h1v1h-1zM114 296h1v1h-1zM237 296h1v1h-1zM346 296h2v1h-2zM366 296h4v1h-4zM378 296h1v1h-1zM557 296h1v1h-1zM276 297h1v1h-1zM346 297h1v1h-1zM367 297h1v1h-1zM369 297h1v1h-1zM379 297h1v1h-1zM238 298h1v1h-1zM346 298h1v1h-1zM369 298h2v1h-2zM377 298h1v1h-1zM379 298h1v1h-1zM391 298h1v1h-1zM519 298h1v1h-1zM558 298h1v1h-1zM158 299h1v1h-1zM238 299h1v1h-1zM276 299h1v1h-1zM345 299h1v1h-1zM370 299h4v1h-4zM380 299h1v1h-1zM199 300h2v1h-2zM236 300h1v1h-1zM290 300h1v1h-1zM373 300h3v1h-3zM377 300h1v1h-1zM380 300h2v1h-2zM410 300h1v1h-1zM485 300h1v1h-1zM558 300h1v1h-1zM100 301h1v1h-1zM199 301h2v1h-2zM217 301h3v1h-3zM238 301h2v1h-2zM344 301h1v1h-1zM375 301h1v1h-1zM381 301h1v1h-1zM489 301h1v1h-1zM519 301h1v1h-1zM100 302h1v1h-1zM198 302h1v1h-1zM201 302h1v1h-1zM216 302h1v1h-1zM218 302h1v1h-1zM220 302h3v1h-3zM239 302h1v1h-1zM344 302h1v1h-1zM346 302h1v1h-1zM375 302h3v1h-3zM382 302h1v1h-1zM387 302h3v1h-3zM416 302h1v1h-1zM486 302h1v1h-1zM594 302h1v1h-1zM62 303h1v1h-1zM140 303h1v1h-1zM180 303h1v1h-1zM201 303h2v1h-2zM213 303h3v1h-3zM221 303h3v1h-3zM234 303h3v1h-3zM239 303h2v1h-2zM343 303h1v1h-1zM376 303h1v1h-1zM383 303h1v1h-1zM385 303h3v1h-3zM410 303h1v1h-1zM520 303h1v1h-1zM100 304h2v1h-2zM139 304h1v1h-1zM141 304h1v1h-1zM144 304h2v1h-2zM164 304h2v1h-2zM178 304h3v1h-3zM191 304h1v1h-1zM198 304h1v1h-1zM202 304h1v1h-1zM206 304h2v1h-2zM212 304h2v1h-2zM223 304h2v1h-2zM231 304h4v1h-4zM241 304h2v1h-2zM251 304h1v1h-1zM383 304h3v1h-3zM394 304h1v1h-1zM454 304h1v1h-1zM487 304h1v1h-1zM489 304h1v1h-1zM558 304h1v1h-1zM62 305h1v1h-1zM120 305h1v1h-1zM139 305h1v1h-1zM141 305h1v1h-1zM143 305h3v1h-3zM164 305h4v1h-4zM174 305h1v1h-1zM178 305h1v1h-1zM180 305h2v1h-2zM190 305h3v1h-3zM197 305h1v1h-1zM203 305h6v1h-6zM210 305h3v1h-3zM224 305h2v1h-2zM230 305h2v1h-2zM243 305h1v1h-1zM410 305h1v1h-1zM63 306h1v1h-1zM138 306h2v1h-2zM142 306h2v1h-2zM145 306h2v1h-2zM163 306h1v1h-1zM167 306h2v1h-2zM173 306h6v1h-6zM181 306h3v1h-3zM189 306h1v1h-1zM192 306h1v1h-1zM197 306h1v1h-1zM203 306h3v1h-3zM208 306h1v1h-1zM210 306h1v1h-1zM225 306h3v1h-3zM229 306h1v1h-1zM243 306h1v1h-1zM275 306h1v1h-1zM416 306h1v1h-1zM487 306h1v1h-1zM520 306h1v1h-1zM559 306h1v1h-1zM54 307h4v1h-4zM63 307h2v1h-2zM99 307h1v1h-1zM137 307h2v1h-2zM146 307h2v1h-2zM160 307h1v1h-1zM162 307h2v1h-2zM169 307h4v1h-4zM177 307h1v1h-1zM183 307h6v1h-6zM193 307h1v1h-1zM209 307h1v1h-1zM226 307h4v1h-4zM244 307h1v1h-1zM341 307h1v1h-1zM394 307h1v1h-1zM416 307h1v1h-1zM489 307h1v1h-1zM533 307h1v1h-1zM54 308h1v1h-1zM58 308h1v1h-1zM61 308h1v1h-1zM64 308h6v1h-6zM75 308h2v1h-2zM103 308h2v1h-2zM137 308h1v1h-1zM147 308h3v1h-3zM160 308h3v1h-3zM170 308h3v1h-3zM187 308h1v1h-1zM193 308h5v1h-5zM228 308h1v1h-1zM244 308h2v1h-2zM281 308h1v1h-1zM415 308h1v1h-1zM433 308h2v1h-2zM484 308h1v1h-1zM488 308h1v1h-1zM520 308h1v1h-1zM568 308h1v1h-1zM54 309h1v1h-1zM58 309h4v1h-4zM70 309h1v1h-1zM75 309h1v1h-1zM95 309h1v1h-1zM99 309h1v1h-1zM104 309h5v1h-5zM136 309h1v1h-1zM148 309h5v1h-5zM159 309h1v1h-1zM161 309h2v1h-2zM245 309h3v1h-3zM280 309h1v1h-1zM340 309h1v1h-1zM395 309h1v1h-1zM415 309h1v1h-1zM417 309h1v1h-1zM433 309h1v1h-1zM52 310h2v1h-2zM71 310h5v1h-5zM96 310h1v1h-1zM98 310h1v1h-1zM108 310h6v1h-6zM134 310h2v1h-2zM151 310h5v1h-5zM158 310h1v1h-1zM246 310h4v1h-4zM257 310h1v1h-1zM261 310h1v1h-1zM275 310h2v1h-2zM280 310h1v1h-1zM340 310h1v1h-1zM412 310h1v1h-1zM417 310h1v1h-1zM433 310h2v1h-2zM490 310h1v1h-1zM521 310h1v1h-1zM560 310h1v1h-1zM52 311h1v1h-1zM73 311h2v1h-2zM82 311h2v1h-2zM94 311h1v1h-1zM96 311h3v1h-3zM112 311h1v1h-1zM114 311h1v1h-1zM133 311h1v1h-1zM155 311h4v1h-4zM248 311h5v1h-5zM257 311h2v1h-2zM260 311h2v1h-2zM279 311h2v1h-2zM339 311h1v1h-1zM386 311h1v1h-1zM395 311h1v1h-1zM409 311h1v1h-1zM412 311h1v1h-1zM415 311h1v1h-1zM78 312h1v1h-1zM82 312h3v1h-3zM93 312h1v1h-1zM115 312h1v1h-1zM131 312h3v1h-3zM156 312h1v1h-1zM252 312h2v1h-2zM256 312h1v1h-1zM259 312h1v1h-1zM261 312h2v1h-2zM275 312h2v1h-2zM279 312h1v1h-1zM315 312h1v1h-1zM335 312h1v1h-1zM339 312h1v1h-1zM413 312h2v1h-2zM417 312h1v1h-1zM432 312h1v1h-1zM435 312h1v1h-1zM528 312h1v1h-1zM78 313h2v1h-2zM81 313h1v1h-1zM85 313h2v1h-2zM92 313h2v1h-2zM115 313h2v1h-2zM131 313h1v1h-1zM169 313h1v1h-1zM253 313h1v1h-1zM255 313h2v1h-2zM277 313h2v1h-2zM335 313h2v1h-2zM338 313h1v1h-1zM396 313h1v1h-1zM413 313h2v1h-2zM432 313h1v1h-1zM435 313h1v1h-1zM521 313h1v1h-1zM560 313h1v1h-1zM59 314h1v1h-1zM80 314h1v1h-1zM86 314h3v1h-3zM91 314h2v1h-2zM116 314h2v1h-2zM129 314h2v1h-2zM149 314h1v1h-1zM254 314h2v1h-2zM262 314h2v1h-2zM277 314h1v1h-1zM283 314h1v1h-1zM314 314h2v1h-2zM336 314h1v1h-1zM418 314h1v1h-1zM429 314h1v1h-1zM431 314h1v1h-1zM449 314h1v1h-1zM522 314h1v1h-1zM529 314h1v1h-1zM87 315h1v1h-1zM89 315h2v1h-2zM117 315h4v1h-4zM127 315h3v1h-3zM263 315h2v1h-2zM270 315h1v1h-1zM274 315h1v1h-1zM278 315h1v1h-1zM283 315h1v1h-1zM295 315h1v1h-1zM303 315h3v1h-3zM316 315h1v1h-1zM334 315h1v1h-1zM422 315h2v1h-2zM428 315h2v1h-2zM431 315h1v1h-1zM435 315h2v1h-2zM490 315h1v1h-1zM120 316h2v1h-2zM125 316h3v1h-3zM265 316h1v1h-1zM269 316h2v1h-2zM284 316h1v1h-1zM295 316h2v1h-2zM300 316h3v1h-3zM304 316h2v1h-2zM309 316h1v1h-1zM314 316h1v1h-1zM336 316h3v1h-3zM396 316h2v1h-2zM400 316h1v1h-1zM409 316h1v1h-1zM419 316h1v1h-1zM423 316h1v1h-1zM430 316h1v1h-1zM437 316h1v1h-1zM560 316h1v1h-1zM59 317h1v1h-1zM121 317h5v1h-5zM189 317h1v1h-1zM266 317h3v1h-3zM271 317h4v1h-4zM284 317h2v1h-2zM294 317h1v1h-1zM296 317h4v1h-4zM306 317h1v1h-1zM308 317h1v1h-1zM310 317h1v1h-1zM316 317h1v1h-1zM322 317h2v1h-2zM338 317h1v1h-1zM397 317h1v1h-1zM399 317h3v1h-3zM419 317h3v1h-3zM424 317h1v1h-1zM430 317h2v1h-2zM437 317h2v1h-2zM454 317h1v1h-1zM522 317h1v1h-1zM561 317h1v1h-1zM607 317h1v1h-1zM80 318h1v1h-1zM208 318h1v1h-1zM268 318h1v1h-1zM285 318h2v1h-2zM290 318h1v1h-1zM293 318h1v1h-1zM307 318h2v1h-2zM311 318h1v1h-1zM313 318h1v1h-1zM317 318h1v1h-1zM320 318h2v1h-2zM324 318h2v1h-2zM329 318h1v1h-1zM334 318h1v1h-1zM376 318h1v1h-1zM398 318h2v1h-2zM402 318h1v1h-1zM421 318h1v1h-1zM428 318h1v1h-1zM438 318h1v1h-1zM454 318h1v1h-1zM491 318h1v1h-1zM120 319h1v1h-1zM286 319h8v1h-8zM307 319h1v1h-1zM311 319h1v1h-1zM318 319h3v1h-3zM325 319h2v1h-2zM328 319h1v1h-1zM330 319h5v1h-5zM398 319h1v1h-1zM402 319h1v1h-1zM439 319h1v1h-1zM522 319h1v1h-1zM561 319h1v1h-1zM594 319h1v1h-1zM149 320h1v1h-1zM288 320h2v1h-2zM292 320h1v1h-1zM312 320h2v1h-2zM317 320h2v1h-2zM326 320h1v1h-1zM331 320h2v1h-2zM403 320h2v1h-2zM427 320h1v1h-1zM439 320h2v1h-2zM454 320h1v1h-1zM493 320h1v1h-1zM327 321h2v1h-2zM404 321h1v1h-1zM426 321h2v1h-2zM440 321h1v1h-1zM453 321h1v1h-1zM469 321h1v1h-1zM491 321h1v1h-1zM248 322h1v1h-1zM257 322h1v1h-1zM327 322h1v1h-1zM405 322h2v1h-2zM408 322h1v1h-1zM426 322h1v1h-1zM441 322h2v1h-2zM453 322h1v1h-1zM455 322h1v1h-1zM468 322h1v1h-1zM523 322h1v1h-1zM562 322h1v1h-1zM406 323h3v1h-3zM442 323h1v1h-1zM449 323h2v1h-2zM459 323h6v1h-6zM468 323h1v1h-1zM493 323h1v1h-1zM70 324h1v1h-1zM139 324h1v1h-1zM407 324h1v1h-1zM442 324h2v1h-2zM449 324h1v1h-1zM451 324h2v1h-2zM455 324h1v1h-1zM457 324h3v1h-3zM463 324h5v1h-5zM523 324h1v1h-1zM574 324h1v1h-1zM287 325h1v1h-1zM443 325h2v1h-2zM448 325h1v1h-1zM450 325h3v1h-3zM456 325h3v1h-3zM466 325h2v1h-2zM562 325h1v1h-1zM297 326h1v1h-1zM307 326h1v1h-1zM444 326h1v1h-1zM448 326h1v1h-1zM452 326h1v1h-1zM456 326h1v1h-1zM467 326h1v1h-1zM169 327h1v1h-1zM297 327h1v1h-1zM445 327h1v1h-1zM447 327h2v1h-2zM110 328h1v1h-1zM326 328h1v1h-1zM446 328h1v1h-1zM494 328h1v1h-1zM465 329h1v1h-1zM573 329h1v1h-1zM496 330h1v1h-1zM563 331h1v1h-1zM568 331h1v1h-1zM228 332h1v1h-1zM254 332h1v1h-1zM267 332h1v1h-1zM524 332h1v1h-1zM593 332h1v1h-1zM497 333h1v1h-1zM525 333h1v1h-1zM564 334h1v1h-1zM574 334h1v1h-1zM336 335h1v1h-1zM455 335h1v1h-1zM498 335h1v1h-1zM524 335h1v1h-1zM129 336h1v1h-1zM139 336h1v1h-1zM253 336h1v1h-1zM498 337h1v1h-1zM525 337h1v1h-1zM528 337h1v1h-1zM564 337h1v1h-1zM569 337h1v1h-1zM574 337h2v1h-2zM572 338h1v1h-1zM574 338h2v1h-2zM90 340h1v1h-1zM500 340h1v1h-1zM503 340h1v1h-1zM526 340h1v1h-1zM569 340h1v1h-1zM572 340h1v1h-1zM583 340h2v1h-2zM527 341h1v1h-1zM533 341h1v1h-1zM565 341h1v1h-1zM567 341h1v1h-1zM582 341h1v1h-1zM620 341h1v1h-1zM576 342h1v1h-1zM581 342h1v1h-1zM614 342h1v1h-1zM621 342h1v1h-1zM623 342h1v1h-1zM445 343h1v1h-1zM500 343h3v1h-3zM504 343h1v1h-1zM566 343h1v1h-1zM576 343h2v1h-2zM585 343h1v1h-1zM617 343h1v1h-1zM622 343h1v1h-1zM464 344h1v1h-1zM571 344h1v1h-1zM621 344h1v1h-1zM502 345h1v1h-1zM567 345h1v1h-1zM578 345h1v1h-1zM580 345h1v1h-1zM588 345h1v1h-1zM613 345h2v1h-2zM254 346h1v1h-1zM505 346h1v1h-1zM529 346h1v1h-1zM571 346h1v1h-1zM575 346h1v1h-1zM578 346h2v1h-2zM585 346h1v1h-1zM614 346h4v1h-4zM60 347h1v1h-1zM218 347h1v1h-1zM506 347h1v1h-1zM532 347h1v1h-1zM570 347h1v1h-1zM578 347h1v1h-1zM585 347h1v1h-1zM607 347h2v1h-2zM616 347h1v1h-1zM179 348h1v1h-1zM528 348h1v1h-1zM572 348h1v1h-1zM586 348h1v1h-1zM570 349h1v1h-1zM586 349h1v1h-1zM608 349h1v1h-1zM612 349h1v1h-1zM587 350h3v1h-3zM605 350h2v1h-2zM611 350h1v1h-1zM100 351h1v1h-1zM587 351h1v1h-1zM593 351h1v1h-1zM597 351h3v1h-3zM605 351h1v1h-1zM609 351h2v1h-2zM622 351h1v1h-1zM596 352h3v1h-3zM605 352h1v1h-1zM589 353h1v1h-1zM595 353h2v1h-2zM599 353h2v1h-2zM604 353h3v1h-3zM507 354h1v1h-1zM587 354h1v1h-1zM589 354h1v1h-1zM597 354h1v1h-1zM600 354h3v1h-3zM507 355h1v1h-1zM530 355h1v1h-1zM602 355h1v1h-1zM508 357h1v1h-1zM530 357h1v1h-1zM595 357h1v1h-1zM612 359h1v1h-1zM531 360h1v1h-1zM590 361h1v1h-1zM603 361h1v1h-1zM532 362h1v1h-1zM591 362h2v1h-2zM591 363h2v1h-2zM494 364h1v1h-1zM583 370h1v1h-1zM534 373h1v1h-1zM593 375h1v1h-1zM622 375h1v1h-1zM535 377h1v1h-1zM535 379h1v1h-1zM573 379h1v1h-1zM535 382h1v1h-1zM536 385h1v1h-1zM536 388h1v1h-1zM612 388h1v1h-1zM537 393h1v1h-1zM537 397h1v1h-1zM543 398h1v1h-1zM537 399h1v1h-1zM542 401h1v1h-1zM538 402h1v1h-1zM538 404h1v1h-1zM539 407h1v1h-1zM542 408h1v1h-1zM539 409h1v1h-1zM539 410h1v1h-1zM541 410h1v1h-1zM541 411h1v1h-1zM540 413h1v1h-1zM540 416h1v1h-1zM603 419h1v1h-1zM544 420h1v1h-1zM544 423h1v1h-1zM545 424h1v1h-1zM545 434h1v1h-1z"/></g>
<g id="raxis" fill="#000"><title>right axis (GOES class scale)</title><path d="M624 24v5h1v-5zM624 30v4h1v-4zM624 35v5h1v-5zM624 41v6h1v-6zM624 48v8h1v-8zM624 57v9h1v-9zM624 67v12h1v-12zM624 80v17h1v-17zM624 98v36h1v-36zM624 135v4h1v-4zM624 140v5h1v-5zM624 146v6h1v-6zM624 153v8h1v-8zM624 162v9h1v-9zM624 172v12h1v-12zM624 185v17h1v-17zM624 203v36h1v-36zM624 240v4h1v-4zM624 245v5h1v-5zM624 251v6h1v-6zM624 258v8h1v-8zM624 267v9h1v-9zM624 277v12h1v-12zM624 290v17h1v-17zM624 308v36h1v-36zM624 345v4h1v-4zM624 350v5h1v-5zM624 356v6h1v-6zM624 363v8h1v-8zM624 372v9h1v-9zM624 382v12h1v-12zM624 395v17h1v-17zM624 413v32h1v-32zM618 29h7v1h-7zM618 34h7v1h-7zM618 40h7v1h-7zM618 47h7v1h-7zM618 56h7v1h-7zM618 66h7v1h-7zM618 79h7v1h-7zM618 97h7v1h-7zM618 134h7v1h-7zM618 139h7v1h-7zM618 145h7v1h-7zM618 152h7v1h-7zM618 161h7v1h-7zM618 171h7v1h-7zM618 184h7v1h-7zM618 202h7v1h-7zM618 239h7v1h-7zM618 244h7v1h-7zM618 250h7v1h-7zM618 257h7v1h-7zM618 266h7v1h-7zM618 276h7v1h-7zM618 289h7v1h-7zM618 307h7v1h-7zM618 344h7v1h-7zM618 349h7v1h-7zM618 355h7v1h-7zM618 362h7v1h-7zM618 371h7v1h-7zM618 381h7v1h-7zM618 394h7v1h-7zM618 412h7v1h-7z"/></g>
<g id="title" fill="#000"><title>GOES 0.1-0.8nm (red), LYRA Al (blue) &amp; Zr (grey) proxy</title><path d="M97 10v4h1v-4zM105 13v3h1v-3zM109 8v7h1v-7zM116 13v3h1v-3zM117 9v4h1v-4zM121 7v4h1v-4zM121 12v5h1v-5zM137 13v3h1v-3zM149 10v4h1v-4zM156 7v9h1v-9zM169 7v11h1v-11zM189 10v4h1v-4zM196 7v9h1v-9zM205 12v4h1v-4zM212 12v4h1v-4zM216 11v7h1v-7zM222 11v7h1v-7zM226 11v7h1v-7zM232 11v7h1v-7zM238 11v7h1v-7zM250 10v5h1v-5zM251 7v3h1v-3zM258 11v7h1v-7zM264 13v3h1v-3zM273 12v3h1v-3zM280 6v4h1v-4zM280 11v5h1v-5zM286 7v3h1v-3zM287 10v5h1v-5zM305 6v11h1v-11zM316 11v7h1v-7zM323 7v4h1v-4zM323 12v6h1v-6zM336 8v3h1v-3zM338 8v3h1v-3zM354 8v3h1v-3zM356 8v3h1v-3zM362 6v12h1v-12zM374 10v5h1v-5zM375 7v3h1v-3zM382 6v4h1v-4zM382 11v5h1v-5zM388 12v4h1v-4zM392 6v12h1v-12zM396 9v8h1v-8zM402 9v6h1v-6zM418 7v3h1v-3zM419 10v5h1v-5zM431 13v3h1v-3zM436 7v3h1v-3zM464 11v7h1v-7zM479 10v5h1v-5zM480 7v3h1v-3zM486 12v4h1v-4zM492 11v5h1v-5zM492 17v3h1v-3zM496 12v6h1v-6zM503 13v3h1v-3zM514 13v3h1v-3zM515 16v3h1v-3zM517 11v3h1v-3zM524 7v10h1v-10zM537 11v5h1v-5zM537 17v4h1v-4zM543 11v5h1v-5zM547 12v6h1v-6zM553 12v3h1v-3zM560 11v5h1v-5zM574 13v3h1v-3zM575 16v3h1v-3zM577 11v3h1v-3zM254 4h1v1h-1zM283 4h1v1h-1zM378 4h1v1h-1zM415 4h1v1h-1zM483 4h1v1h-1zM521 4h1v1h-1zM253 5h1v1h-1zM284 5h1v1h-1zM377 5h1v1h-1zM416 5h1v1h-1zM482 5h1v1h-1zM522 5h1v1h-1zM100 6h5v1h-5zM111 6h5v1h-5zM121 6h7v1h-7zM131 6h6v1h-6zM151 6h5v1h-5zM168 6h2v1h-2zM191 6h5v1h-5zM206 6h6v1h-6zM252 6h1v1h-1zM285 6h1v1h-1zM312 6h1v1h-1zM321 6h1v1h-1zM323 6h8v1h-8zM337 6h1v1h-1zM355 6h1v1h-1zM376 6h1v1h-1zM417 6h1v1h-1zM434 6h3v1h-3zM453 6h8v1h-8zM481 6h1v1h-1zM523 6h1v1h-1zM99 7h1v1h-1zM105 7h1v1h-1zM110 7h1v1h-1zM116 7h1v1h-1zM130 7h1v1h-1zM137 7h1v1h-1zM151 7h1v1h-1zM167 7h1v1h-1zM191 7h1v1h-1zM205 7h1v1h-1zM212 7h1v1h-1zM313 7h1v1h-1zM320 7h1v1h-1zM330 7h1v1h-1zM337 7h1v1h-1zM355 7h1v1h-1zM433 7h1v1h-1zM459 7h1v1h-1zM98 8h1v1h-1zM105 8h1v1h-1zM116 8h1v1h-1zM130 8h1v1h-1zM150 8h1v1h-1zM166 8h1v1h-1zM190 8h1v1h-1zM205 8h1v1h-1zM212 8h1v1h-1zM314 8h1v1h-1zM319 8h1v1h-1zM331 8h1v1h-1zM433 8h1v1h-1zM459 8h1v1h-1zM98 9h1v1h-1zM131 9h1v1h-1zM150 9h1v1h-1zM190 9h1v1h-1zM206 9h1v1h-1zM211 9h1v1h-1zM216 9h1v1h-1zM218 9h3v1h-3zM226 9h1v1h-1zM228 9h3v1h-3zM234 9h3v1h-3zM258 9h1v1h-1zM260 9h3v1h-3zM266 9h3v1h-3zM276 9h3v1h-3zM314 9h1v1h-1zM318 9h1v1h-1zM331 9h1v1h-1zM384 9h2v1h-2zM408 9h3v1h-3zM434 9h1v1h-1zM440 9h2v1h-2zM458 9h1v1h-1zM464 9h1v1h-1zM466 9h3v1h-3zM489 9h2v1h-2zM492 9h1v1h-1zM496 9h1v1h-1zM499 9h3v1h-3zM505 9h3v1h-3zM512 9h1v1h-1zM518 9h1v1h-1zM537 9h1v1h-1zM539 9h3v1h-3zM547 9h1v1h-1zM550 9h2v1h-2zM556 9h3v1h-3zM563 9h1v1h-1zM569 9h1v1h-1zM572 9h1v1h-1zM578 9h1v1h-1zM131 10h3v1h-3zM207 10h4v1h-4zM216 10h2v1h-2zM221 10h1v1h-1zM226 10h2v1h-2zM231 10h1v1h-1zM233 10h1v1h-1zM237 10h1v1h-1zM258 10h2v1h-2zM265 10h1v1h-1zM269 10h2v1h-2zM275 10h1v1h-1zM279 10h2v1h-2zM315 10h1v1h-1zM317 10h1v1h-1zM330 10h1v1h-1zM382 10h2v1h-2zM386 10h1v1h-1zM407 10h1v1h-1zM411 10h1v1h-1zM434 10h2v1h-2zM440 10h2v1h-2zM457 10h1v1h-1zM464 10h2v1h-2zM488 10h1v1h-1zM491 10h2v1h-2zM496 10h1v1h-1zM498 10h1v1h-1zM504 10h1v1h-1zM508 10h2v1h-2zM512 10h1v1h-1zM518 10h1v1h-1zM537 10h2v1h-2zM542 10h1v1h-1zM547 10h1v1h-1zM549 10h1v1h-1zM555 10h1v1h-1zM559 10h1v1h-1zM564 10h1v1h-1zM568 10h1v1h-1zM572 10h1v1h-1zM578 10h1v1h-1zM121 11h5v1h-5zM134 11h2v1h-2zM206 11h1v1h-1zM210 11h2v1h-2zM264 11h1v1h-1zM270 11h1v1h-1zM274 11h1v1h-1zM323 11h7v1h-7zM335 11h1v1h-1zM339 11h1v1h-1zM353 11h1v1h-1zM357 11h1v1h-1zM387 11h2v1h-2zM406 11h1v1h-1zM412 11h1v1h-1zM433 11h3v1h-3zM439 11h1v1h-1zM457 11h1v1h-1zM486 11h2v1h-2zM496 11h2v1h-2zM503 11h1v1h-1zM509 11h1v1h-1zM513 11h1v1h-1zM547 11h2v1h-2zM554 11h1v1h-1zM565 11h1v1h-1zM568 11h1v1h-1zM573 11h1v1h-1zM103 12h3v1h-3zM136 12h2v1h-2zM176 12h10v1h-10zM264 12h7v1h-7zM328 12h1v1h-1zM335 12h1v1h-1zM339 12h1v1h-1zM353 12h1v1h-1zM357 12h1v1h-1zM405 12h8v1h-8zM431 12h2v1h-2zM436 12h1v1h-1zM439 12h1v1h-1zM456 12h1v1h-1zM503 12h7v1h-7zM513 12h1v1h-1zM565 12h1v1h-1zM567 12h1v1h-1zM573 12h1v1h-1zM328 13h1v1h-1zM334 13h7v1h-7zM352 13h7v1h-7zM405 13h1v1h-1zM437 13h2v1h-2zM456 13h1v1h-1zM566 13h1v1h-1zM98 14h1v1h-1zM150 14h1v1h-1zM190 14h1v1h-1zM329 14h1v1h-1zM334 14h1v1h-1zM340 14h1v1h-1zM352 14h1v1h-1zM358 14h1v1h-1zM405 14h1v1h-1zM437 14h2v1h-2zM455 14h1v1h-1zM516 14h1v1h-1zM565 14h1v1h-1zM567 14h1v1h-1zM576 14h1v1h-1zM99 15h1v1h-1zM110 15h1v1h-1zM130 15h1v1h-1zM150 15h1v1h-1zM190 15h1v1h-1zM251 15h1v1h-1zM270 15h1v1h-1zM274 15h1v1h-1zM286 15h1v1h-1zM330 15h1v1h-1zM334 15h1v1h-1zM340 15h1v1h-1zM352 15h1v1h-1zM358 15h1v1h-1zM375 15h1v1h-1zM401 15h2v1h-2zM406 15h1v1h-1zM412 15h1v1h-1zM418 15h1v1h-1zM437 15h2v1h-2zM454 15h1v1h-1zM480 15h1v1h-1zM509 15h1v1h-1zM516 15h1v1h-1zM554 15h1v1h-1zM565 15h1v1h-1zM568 15h1v1h-1zM576 15h1v1h-1zM100 16h1v1h-1zM104 16h1v1h-1zM111 16h1v1h-1zM115 16h1v1h-1zM131 16h1v1h-1zM136 16h1v1h-1zM151 16h1v1h-1zM155 16h1v1h-1zM160 16h2v1h-2zM191 16h1v1h-1zM195 16h1v1h-1zM200 16h2v1h-2zM205 16h2v1h-2zM211 16h2v1h-2zM251 16h1v1h-1zM265 16h1v1h-1zM269 16h1v1h-1zM275 16h1v1h-1zM279 16h2v1h-2zM286 16h1v1h-1zM291 16h2v1h-2zM330 16h1v1h-1zM333 16h1v1h-1zM341 16h1v1h-1zM351 16h1v1h-1zM359 16h1v1h-1zM375 16h1v1h-1zM382 16h2v1h-2zM386 16h2v1h-2zM400 16h1v1h-1zM402 16h1v1h-1zM407 16h1v1h-1zM411 16h1v1h-1zM418 16h1v1h-1zM431 16h2v1h-2zM436 16h1v1h-1zM439 16h1v1h-1zM441 16h1v1h-1zM454 16h1v1h-1zM480 16h1v1h-1zM487 16h2v1h-2zM491 16h2v1h-2zM504 16h1v1h-1zM508 16h1v1h-1zM537 16h2v1h-2zM542 16h1v1h-1zM555 16h1v1h-1zM559 16h1v1h-1zM564 16h1v1h-1zM568 16h1v1h-1zM101 17h3v1h-3zM112 17h3v1h-3zM121 17h7v1h-7zM132 17h4v1h-4zM152 17h3v1h-3zM161 17h1v1h-1zM192 17h3v1h-3zM201 17h1v1h-1zM207 17h4v1h-4zM252 17h1v1h-1zM266 17h3v1h-3zM276 17h3v1h-3zM280 17h1v1h-1zM285 17h1v1h-1zM292 17h1v1h-1zM305 17h7v1h-7zM331 17h1v1h-1zM333 17h1v1h-1zM341 17h1v1h-1zM351 17h1v1h-1zM359 17h1v1h-1zM376 17h1v1h-1zM382 17h1v1h-1zM384 17h2v1h-2zM397 17h3v1h-3zM402 17h1v1h-1zM408 17h3v1h-3zM417 17h1v1h-1zM433 17h3v1h-3zM440 17h2v1h-2zM453 17h8v1h-8zM481 17h1v1h-1zM489 17h2v1h-2zM505 17h3v1h-3zM523 17h1v1h-1zM539 17h3v1h-3zM556 17h3v1h-3zM563 17h1v1h-1zM569 17h1v1h-1zM252 18h1v1h-1zM285 18h1v1h-1zM292 18h1v1h-1zM376 18h1v1h-1zM417 18h1v1h-1zM481 18h1v1h-1zM523 18h1v1h-1zM253 19h1v1h-1zM284 19h1v1h-1zM291 19h1v1h-1zM377 19h1v1h-1zM416 19h1v1h-1zM482 19h1v1h-1zM514 19h1v1h-1zM522 19h1v1h-1zM574 19h1v1h-1zM254 20h1v1h-1zM283 20h1v1h-1zM378 20h1v1h-1zM415 20h1v1h-1zM483 20h1v1h-1zM488 20h4v1h-4zM511 20h3v1h-3zM521 20h1v1h-1zM571 20h3v1h-3z"/></g>
<g id="xlabels" fill="#000"><title>0 5 10 15 20</title><path d="M49 455v7h1v-7zM55 456v3h1v-3zM286 455v8h1v-8zM291 457v3h1v-3zM292 454v3h1v-3zM297 455v6h1v-6zM405 455v8h1v-8zM416 458v4h1v-4zM530 455v7h1v-7zM535 455v6h1v-6zM51 453h2v1h-2zM169 453h5v1h-5zM286 453h1v1h-1zM293 453h3v1h-3zM405 453h1v1h-1zM411 453h5v1h-5zM523 453h3v1h-3zM532 453h2v1h-2zM50 454h1v1h-1zM53 454h1v1h-1zM169 454h1v1h-1zM285 454h2v1h-2zM296 454h1v1h-1zM404 454h2v1h-2zM411 454h1v1h-1zM522 454h1v1h-1zM526 454h1v1h-1zM531 454h1v1h-1zM534 454h1v1h-1zM54 455h1v1h-1zM169 455h1v1h-1zM284 455h1v1h-1zM403 455h1v1h-1zM411 455h1v1h-1zM522 455h1v1h-1zM527 455h1v1h-1zM168 456h1v1h-1zM170 456h2v1h-2zM411 456h4v1h-4zM527 456h1v1h-1zM168 457h2v1h-2zM172 457h2v1h-2zM411 457h1v1h-1zM415 457h2v1h-2zM526 457h1v1h-1zM173 458h1v1h-1zM525 458h1v1h-1zM54 459h1v1h-1zM174 459h1v1h-1zM524 459h1v1h-1zM54 460h1v1h-1zM168 460h1v1h-1zM174 460h1v1h-1zM292 460h1v1h-1zM410 460h1v1h-1zM523 460h1v1h-1zM53 461h1v1h-1zM168 461h1v1h-1zM173 461h1v1h-1zM292 461h1v1h-1zM296 461h1v1h-1zM411 461h1v1h-1zM522 461h1v1h-1zM534 461h1v1h-1zM50 462h4v1h-4zM169 462h4v1h-4zM292 462h5v1h-5zM411 462h5v1h-5zM521 462h7v1h-7zM531 462h4v1h-4z"/></g>
<g id="xtitle" fill="#000"><title>Time / h UTC, 03 May 2010</title><path d="M245 470v9h1v-9zM250 472v7h1v-7zM253 473v6h1v-6zM258 473v6h1v-6zM262 473v6h1v-6zM296 469v3h1v-3zM296 473v6h1v-6zM301 473v6h1v-6zM311 469v8h1v-8zM317 469v7h1v-7zM322 470v9h1v-9zM326 472v3h1v-3zM346 473v3h1v-3zM347 470v3h1v-3zM352 470v7h1v-7zM370 473v6h1v-6zM375 474v3h1v-3zM377 474v5h1v-5zM380 473v4h1v-4zM385 473v4h1v-4zM389 474v3h1v-3zM410 471v6h1v-6zM416 472v3h1v-3zM422 470v9h1v-9zM427 471v6h1v-6zM433 472v3h1v-3zM287 467h1v1h-1zM250 468h1v1h-1zM286 468h1v1h-1zM242 469h9v1h-9zM286 469h1v1h-1zM319 469h7v1h-7zM328 469h4v1h-4zM347 469h5v1h-5zM355 469h6v1h-6zM370 469h1v1h-1zM377 469h1v1h-1zM403 469h4v1h-4zM411 469h4v1h-4zM421 469h2v1h-2zM428 469h4v1h-4zM285 470h1v1h-1zM327 470h1v1h-1zM332 470h1v1h-1zM359 470h1v1h-1zM370 470h1v1h-1zM377 470h1v1h-1zM402 470h1v1h-1zM406 470h1v1h-1zM411 470h1v1h-1zM415 470h1v1h-1zM420 470h1v1h-1zM428 470h1v1h-1zM432 470h1v1h-1zM285 471h1v1h-1zM327 471h1v1h-1zM333 471h1v1h-1zM359 471h1v1h-1zM370 471h2v1h-2zM376 471h2v1h-2zM402 471h1v1h-1zM407 471h1v1h-1zM415 471h1v1h-1zM420 471h1v1h-1zM432 471h1v1h-1zM253 472h5v1h-5zM259 472h4v1h-4zM267 472h4v1h-4zM284 472h1v1h-1zM296 472h5v1h-5zM358 472h2v1h-2zM370 472h2v1h-2zM376 472h2v1h-2zM381 472h5v1h-5zM388 472h1v1h-1zM393 472h1v1h-1zM406 472h1v1h-1zM266 473h1v1h-1zM270 473h1v1h-1zM284 473h1v1h-1zM360 473h1v1h-1zM372 473h1v1h-1zM376 473h2v1h-2zM388 473h1v1h-1zM393 473h1v1h-1zM406 473h1v1h-1zM265 474h6v1h-6zM283 474h1v1h-1zM361 474h1v1h-1zM372 474h1v1h-1zM392 474h1v1h-1zM405 474h1v1h-1zM265 475h1v1h-1zM282 475h1v1h-1zM327 475h1v1h-1zM361 475h1v1h-1zM373 475h1v1h-1zM392 475h1v1h-1zM404 475h1v1h-1zM415 475h1v1h-1zM432 475h1v1h-1zM266 476h1v1h-1zM270 476h1v1h-1zM282 476h1v1h-1zM316 476h1v1h-1zM327 476h1v1h-1zM332 476h2v1h-2zM347 476h1v1h-1zM355 476h1v1h-1zM360 476h1v1h-1zM373 476h1v1h-1zM391 476h1v1h-1zM403 476h1v1h-1zM415 476h1v1h-1zM432 476h1v1h-1zM267 477h1v1h-1zM270 477h1v1h-1zM281 477h1v1h-1zM312 477h1v1h-1zM315 477h1v1h-1zM328 477h1v1h-1zM331 477h1v1h-1zM336 477h2v1h-2zM347 477h2v1h-2zM351 477h1v1h-1zM355 477h1v1h-1zM359 477h1v1h-1zM374 477h1v1h-1zM381 477h1v1h-1zM384 477h2v1h-2zM390 477h2v1h-2zM402 477h1v1h-1zM411 477h1v1h-1zM414 477h1v1h-1zM428 477h1v1h-1zM431 477h1v1h-1zM267 478h3v1h-3zM281 478h1v1h-1zM313 478h2v1h-2zM329 478h3v1h-3zM336 478h2v1h-2zM349 478h2v1h-2zM356 478h3v1h-3zM374 478h1v1h-1zM382 478h2v1h-2zM385 478h1v1h-1zM390 478h1v1h-1zM401 478h7v1h-7zM412 478h2v1h-2zM429 478h2v1h-2zM280 479h1v1h-1zM336 479h1v1h-1zM389 479h1v1h-1zM280 480h1v1h-1zM388 480h1v1h-1zM279 481h1v1h-1zM387 481h2v1h-2z"/></g>
<g id="ylabels" fill="#000"><title>10^-4 10^-5 10^-6 10^-7 10^-8</title><path d="M29 26v6h1v-6zM29 128v6h1v-6zM29 233v6h1v-6zM29 338v6h1v-6zM29 439v6h1v-6zM33 129v3h1v-3zM33 234v3h1v-3zM33 339v3h1v-3zM33 440v3h1v-3zM38 25v5h1v-5zM38 127v6h1v-6zM38 232v6h1v-6zM38 337v6h1v-6zM38 438v6h1v-6zM47 21h1v1h-1zM46 22h2v1h-2zM46 23h2v1h-2zM29 24h1v1h-1zM34 24h4v1h-4zM40 24h9v1h-9zM27 25h3v1h-3zM34 25h1v1h-1zM47 25h1v1h-1zM34 26h1v1h-1zM47 26h1v1h-1zM33 27h1v1h-1zM33 28h1v1h-1zM34 29h1v1h-1zM34 30h1v1h-1zM37 30h1v1h-1zM35 31h2v1h-2zM45 123h3v1h-3zM45 124h1v1h-1zM45 125h3v1h-3zM29 126h1v1h-1zM34 126h4v1h-4zM40 126h5v1h-5zM48 126h1v1h-1zM27 127h3v1h-3zM34 127h1v1h-1zM45 127h1v1h-1zM48 127h1v1h-1zM34 128h1v1h-1zM45 128h3v1h-3zM34 132h1v1h-1zM34 133h4v1h-4zM46 228h2v1h-2zM45 229h4v1h-4zM45 230h3v1h-3zM29 231h1v1h-1zM34 231h4v1h-4zM40 231h6v1h-6zM48 231h1v1h-1zM27 232h3v1h-3zM34 232h1v1h-1zM45 232h1v1h-1zM48 232h1v1h-1zM34 233h1v1h-1zM46 233h2v1h-2zM34 237h1v1h-1zM34 238h4v1h-4zM45 333h4v1h-4zM48 334h1v1h-1zM47 335h1v1h-1zM29 336h1v1h-1zM34 336h4v1h-4zM40 336h5v1h-5zM47 336h1v1h-1zM27 337h3v1h-3zM34 337h1v1h-1zM46 337h1v1h-1zM34 338h1v1h-1zM46 338h1v1h-1zM34 342h1v1h-1zM34 343h4v1h-4zM45 435h4v1h-4zM45 436h4v1h-4zM29 437h1v1h-1zM34 437h4v1h-4zM40 437h9v1h-9zM27 438h3v1h-3zM34 438h1v1h-1zM45 438h1v1h-1zM48 438h1v1h-1zM34 439h1v1h-1zM45 439h4v1h-4zM34 443h1v1h-1zM34 444h4v1h-4z"/></g>
<g id="ytitle" fill="#000"><title>GOES Irradiance / (W m^-2)</title><path d="M9 172v5h1v-5zM9 282v4h1v-4zM9 288v4h1v-4zM9 296v3h1v-3zM9 303v3h1v-3zM12 289v3h1v-3zM16 225v3h1v-3zM16 231v3h1v-3zM16 244v3h1v-3zM16 253v3h1v-3zM16 259v3h1v-3zM16 282v4h1v-4zM16 288v4h1v-4zM16 296v3h1v-3zM16 303v3h1v-3zM12 163h3v1h-3zM10 164h2v1h-2zM15 164h1v1h-1zM8 165h2v1h-2zM16 165h3v1h-3zM7 166h1v1h-1zM18 166h1v1h-1zM11 167h1v1h-1zM6 168h3v1h-3zM11 168h1v1h-1zM6 169h1v1h-1zM9 169h3v1h-3zM6 170h2v1h-2zM11 170h1v1h-1zM12 178h5v1h-5zM11 179h1v1h-1zM11 180h1v1h-1zM12 181h1v1h-1zM12 182h5v1h-5zM11 183h1v1h-1zM11 184h2v1h-2zM11 185h6v1h-6zM9 193h4v1h-4zM13 194h4v1h-4zM11 195h4v1h-4zM9 196h2v1h-2zM11 197h4v1h-4zM13 198h4v1h-4zM9 199h4v1h-4zM7 201h1v1h-1zM18 201h1v1h-1zM8 202h2v1h-2zM16 202h3v1h-3zM10 203h6v1h-6zM7 211h1v1h-1zM8 212h2v1h-2zM10 213h2v1h-2zM12 214h2v1h-2zM14 215h2v1h-2zM16 216h2v1h-2zM18 217h1v1h-1zM12 224h2v1h-2zM15 224h1v1h-1zM11 225h3v1h-3zM11 226h1v1h-1zM13 226h1v1h-1zM12 227h2v1h-2zM12 228h4v1h-4zM12 230h1v1h-1zM15 230h1v1h-1zM11 231h2v1h-2zM11 232h1v1h-1zM12 233h1v1h-1zM12 234h4v1h-4zM13 236h4v1h-4zM11 237h2v1h-2zM11 238h1v1h-1zM12 239h1v1h-1zM11 240h6v1h-6zM11 243h6v1h-6zM11 244h2v1h-2zM11 245h1v1h-1zM12 246h1v1h-1zM12 247h4v1h-4zM8 249h2v1h-2zM11 249h6v1h-6zM9 250h1v1h-1zM9 252h8v1h-8zM11 253h2v1h-2zM11 254h1v1h-1zM12 255h1v1h-1zM12 256h4v1h-4zM11 258h6v1h-6zM12 259h1v1h-1zM11 260h1v1h-1zM11 261h2v1h-2zM12 262h4v1h-4zM11 264h1v1h-1zM11 265h2v1h-2zM11 266h6v1h-6zM11 268h1v1h-1zM11 269h1v1h-1zM12 270h1v1h-1zM11 271h6v1h-6zM9 273h8v1h-8zM10 281h1v1h-1zM14 281h2v1h-2zM13 282h1v1h-1zM13 283h1v1h-1zM12 284h1v1h-1zM12 285h1v1h-1zM10 286h2v1h-2zM15 286h1v1h-1zM9 292h8v1h-8zM12 294h2v1h-2zM10 295h2v1h-2zM14 295h2v1h-2zM10 299h2v1h-2zM14 299h2v1h-2zM12 300h2v1h-2zM10 302h2v1h-2zM13 302h3v1h-3zM13 303h1v1h-1zM10 306h1v1h-1zM15 306h1v1h-1zM11 307h4v1h-4z"/></g>
<g id="classes" fill="#000"><title>M C B A</title><path d="M632 75v5h1v-5zM632 177v5h1v-5zM632 281v3h1v-3zM632 285v4h1v-4zM633 387v3h1v-3zM634 75v3h1v-3zM638 281v3h1v-3zM638 285v3h1v-3zM639 74v6h1v-6zM632 70h1v1h-1zM639 70h1v1h-1zM632 71h1v1h-1zM639 71h1v1h-1zM632 72h2v1h-2zM638 72h2v1h-2zM632 73h2v1h-2zM638 73h2v1h-2zM632 74h2v1h-2zM637 74h1v1h-1zM637 75h1v1h-1zM636 76h1v1h-1zM636 77h1v1h-1zM635 78h1v1h-1zM635 79h1v1h-1zM633 175h5v1h-5zM633 176h1v1h-1zM638 176h1v1h-1zM638 177h1v1h-1zM632 182h2v1h-2zM638 182h1v1h-1zM633 183h1v1h-1zM637 183h1v1h-1zM634 184h3v1h-3zM632 280h6v1h-6zM632 284h6v1h-6zM637 288h2v1h-2zM632 289h5v1h-5zM634 385h1v1h-1zM634 386h1v1h-1zM635 387h1v1h-1zM635 388h1v1h-1zM636 389h1v1h-1zM632 390h1v1h-1zM636 390h1v1h-1zM632 391h6v1h-6zM632 392h1v1h-1zM637 392h1v1h-1zM631 393h1v1h-1zM638 393h1v1h-1zM631 394h1v1h-1zM638 394h1v1h-1z"/></g>
<g id="footer" fill="#000"><title>ROB/SIDC, Brussels, Belgium</title><path d="M489 491v4h1v-4zM496 488v6h1v-6zM501 489v4h1v-4zM503 491v3h1v-3zM525 487v8h1v-8zM527 488v6h1v-6zM532 489v4h1v-4zM534 489v4h1v-4zM550 491v3h1v-3zM557 491v4h1v-4zM562 489v5h1v-5zM565 489v5h1v-5zM586 487v8h1v-8zM603 491v3h1v-3zM607 491v3h1v-3zM616 487v8h1v-8zM622 490v4h1v-4zM625 489v6h1v-6zM628 489v5h1v-5zM631 489v5h1v-5zM634 491v4h1v-4zM638 491v4h1v-4zM641 490v5h1v-5zM516 486h1v1h-1zM489 487h5v1h-5zM497 487h4v1h-4zM503 487h5v1h-5zM515 487h1v1h-1zM518 487h5v1h-5zM527 487h5v1h-5zM535 487h4v1h-4zM550 487h5v1h-5zM603 487h5v1h-5zM625 487h1v1h-1zM489 488h1v1h-1zM493 488h2v1h-2zM500 488h1v1h-1zM503 488h1v1h-1zM508 488h1v1h-1zM515 488h1v1h-1zM517 488h1v1h-1zM522 488h1v1h-1zM531 488h1v1h-1zM535 488h1v1h-1zM539 488h1v1h-1zM550 488h1v1h-1zM555 488h1v1h-1zM603 488h1v1h-1zM607 488h1v1h-1zM489 489h1v1h-1zM494 489h1v1h-1zM503 489h1v1h-1zM508 489h1v1h-1zM514 489h1v1h-1zM517 489h2v1h-2zM539 489h1v1h-1zM550 489h1v1h-1zM555 489h1v1h-1zM557 489h1v1h-1zM559 489h2v1h-2zM569 489h2v1h-2zM575 489h2v1h-2zM581 489h2v1h-2zM589 489h2v1h-2zM603 489h1v1h-1zM607 489h1v1h-1zM611 489h2v1h-2zM620 489h3v1h-3zM634 489h1v1h-1zM636 489h2v1h-2zM639 489h2v1h-2zM489 490h5v1h-5zM503 490h6v1h-6zM514 490h1v1h-1zM518 490h3v1h-3zM550 490h6v1h-6zM557 490h2v1h-2zM568 490h1v1h-1zM571 490h1v1h-1zM573 490h2v1h-2zM577 490h1v1h-1zM579 490h2v1h-2zM582 490h2v1h-2zM588 490h1v1h-1zM591 490h2v1h-2zM603 490h5v1h-5zM610 490h1v1h-1zM613 490h1v1h-1zM619 490h1v1h-1zM634 490h2v1h-2zM637 490h1v1h-1zM639 490h1v1h-1zM492 491h1v1h-1zM507 491h2v1h-2zM513 491h1v1h-1zM521 491h2v1h-2zM554 491h2v1h-2zM568 491h2v1h-2zM574 491h2v1h-2zM579 491h5v1h-5zM588 491h3v1h-3zM609 491h5v1h-5zM618 491h1v1h-1zM493 492h1v1h-1zM508 492h1v1h-1zM512 492h1v1h-1zM522 492h1v1h-1zM539 492h1v1h-1zM555 492h1v1h-1zM570 492h2v1h-2zM576 492h2v1h-2zM579 492h1v1h-1zM591 492h1v1h-1zM609 492h1v1h-1zM618 492h1v1h-1zM493 493h1v1h-1zM500 493h1v1h-1zM508 493h1v1h-1zM512 493h1v1h-1zM517 493h1v1h-1zM522 493h1v1h-1zM531 493h1v1h-1zM535 493h1v1h-1zM539 493h1v1h-1zM542 493h1v1h-1zM555 493h1v1h-1zM568 493h1v1h-1zM571 493h1v1h-1zM573 493h1v1h-1zM577 493h1v1h-1zM579 493h1v1h-1zM583 493h1v1h-1zM588 493h1v1h-1zM592 493h1v1h-1zM594 493h1v1h-1zM610 493h1v1h-1zM613 493h1v1h-1zM619 493h1v1h-1zM494 494h1v1h-1zM497 494h4v1h-4zM503 494h5v1h-5zM511 494h1v1h-1zM518 494h5v1h-5zM527 494h5v1h-5zM535 494h4v1h-4zM541 494h2v1h-2zM550 494h5v1h-5zM562 494h4v1h-4zM568 494h4v1h-4zM574 494h4v1h-4zM580 494h3v1h-3zM588 494h4v1h-4zM594 494h2v1h-2zM603 494h5v1h-5zM610 494h4v1h-4zM619 494h4v1h-4zM628 494h4v1h-4zM511 495h1v1h-1zM541 495h2v1h-2zM594 495h1v1h-1zM622 495h1v1h-1zM510 496h1v1h-1zM619 496h4v1h-4z"/></g>
<g id="labels"><text x="338" y="18" font-size="15" text-anchor="middle">GOES 0.1-0.8nm (red), LYRA Al (blue) &amp; Zr (grey) proxy</text><text x="338" y="479" font-size="12" text-anchor="middle">Time / h UTC, 03 May 2010</text><text x="16" y="234" font-size="10" text-anchor="middle" transform="rotate(-90 16 234)">GOES Irradiance / (W m⁻²)</text><text x="642" y="495" font-size="10" text-anchor="end">ROB/SIDC, Brussels, Belgium</text><text x="52" y="463" font-size="12" text-anchor="middle">0</text><text x="171.167" y="463" font-size="12" text-anchor="middle">5</text><text x="290.333" y="463" font-size="12" text-anchor="middle">10</text><text x="409.5" y="463" font-size="12" text-anchor="middle">15</text><text x="528.667" y="463" font-size="12" text-anchor="middle">20</text><text x="48" y="28" font-size="10" text-anchor="end">10⁻⁴</text><text x="48" y="133" font-size="10" text-anchor="end">10⁻⁵</text><text x="48" y="238" font-size="10" text-anchor="end">10⁻⁶</text><text x="48" y="343" font-size="10" text-anchor="end">10⁻⁷</text><text x="48" y="448" font-size="10" text-anchor="end">10⁻⁸</text><text x="630" y="80" font-size="12" text-anchor="start">M</text><text x="630" y="185" font-size="12" text-anchor="start">C</text><text x="630" y="290" font-size="12" text-anchor="start">B</text><text x="630" y="395" font-size="12" text-anchor="start">A</text></g>
</svg>
</body></html>
